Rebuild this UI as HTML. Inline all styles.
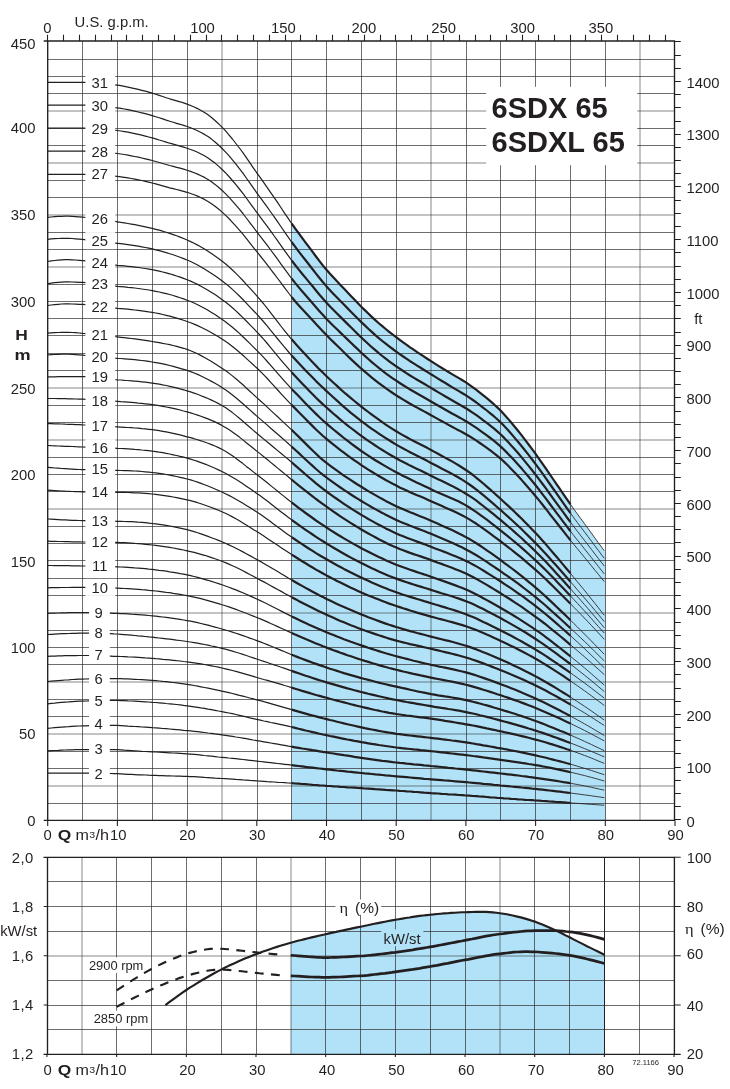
<!DOCTYPE html>
<html lang="en"><head><meta charset="utf-8"><title>6SDX 65 / 6SDXL 65</title>
<style>html,body{margin:0;padding:0;background:#fff}svg{display:block;will-change:transform}</style></head>
<body>
<svg width="730" height="1089" viewBox="0 0 730 1089" font-family="'Liberation Sans', Arial, Helvetica, sans-serif" fill="#231f20">
<rect width="730" height="1089" fill="#fff"/>
<path d="M291.6,820.4 L291.6,223.5 L295.1,228.4 L298.6,233.2 L302.1,237.9 L305.6,242.6 L309.1,247.2 L312.6,251.9 L316.0,256.5 L319.5,261.1 L323.0,265.6 L326.5,269.8 L330.0,273.8 L333.5,277.6 L337.0,281.3 L340.4,284.9 L343.9,288.6 L347.4,292.3 L350.9,296.0 L354.4,299.6 L357.9,303.2 L361.3,306.7 L364.8,310.1 L368.3,313.5 L371.8,316.9 L375.3,320.1 L378.8,323.2 L382.3,326.2 L385.7,329.0 L389.2,331.8 L392.7,334.5 L396.2,337.2 L399.7,339.8 L403.2,342.4 L406.7,344.8 L410.1,347.3 L413.6,349.7 L417.1,352.1 L420.6,354.4 L424.1,356.7 L427.6,359.0 L431.0,361.2 L434.5,363.4 L438.0,365.6 L441.5,367.7 L445.0,369.9 L448.5,372.0 L452.0,374.1 L455.4,376.1 L458.9,378.1 L462.4,380.2 L465.9,382.4 L469.4,384.8 L472.9,387.3 L476.4,389.9 L479.8,392.6 L483.3,395.4 L486.8,398.2 L490.3,401.2 L493.8,404.2 L497.3,407.4 L500.8,410.8 L504.2,414.5 L507.7,418.4 L511.2,422.5 L514.7,426.7 L518.2,431.0 L521.7,435.4 L525.1,439.9 L528.6,444.5 L532.1,449.1 L535.6,453.9 L539.1,458.8 L542.6,463.8 L546.1,468.8 L549.5,473.9 L553.0,479.0 L556.5,484.1 L560.0,489.2 L563.5,494.3 L567.0,499.3 L570.5,504.3 L573.9,509.2 L577.4,514.0 L580.9,518.8 L584.4,523.5 L587.9,528.3 L591.4,533.1 L594.8,537.9 L598.3,542.7 L601.8,547.4 L605.3,552.2 L605.3,820.4 Z" fill="#b1e2f7"/>
<path d="M47.7,59.5H674.5M47.7,76.5H674.5M47.7,93.5H674.5M47.7,128.5H674.5M47.7,145.5H674.5M47.7,180.5H674.5M47.7,197.5H674.5M47.7,232.5H674.5M47.7,249.5H674.5M47.7,284.5H674.5M47.7,301.5H674.5M47.7,318.5H674.5M47.7,335.5H674.5M47.7,353.5H674.5M47.7,370.5H674.5M47.7,405.5H674.5M47.7,422.5H674.5M47.7,457.5H674.5M47.7,474.5H674.5M47.7,491.5H674.5M47.7,526.5H674.5M47.7,543.5H674.5M47.7,560.5H674.5M47.7,578.5H674.5M47.7,595.5H674.5M47.7,630.5H674.5M47.7,647.5H674.5M47.7,664.5H674.5M47.7,699.5H674.5M47.7,716.5H674.5M47.7,751.5H674.5M47.7,768.5H674.5M47.7,803.5H674.5M82.5,41.0V820.4M117.5,41.0V820.4M152.5,41.0V820.4M187.5,41.0V820.4M257.5,41.0V820.4M291.5,41.0V820.4M326.5,41.0V820.4M361.5,41.0V820.4M396.5,41.0V820.4M466.5,41.0V820.4M500.5,41.0V820.4M535.5,41.0V820.4M570.5,41.0V820.4M605.5,41.0V820.4" stroke="#2b2728" stroke-width="0.68" fill="none"/>
<path d="M47.7,111H674.5M47.7,163H674.5M47.7,215H674.5M47.7,267H674.5M47.7,388H674.5M47.7,440H674.5M47.7,509H674.5M47.7,613H674.5M47.7,682H674.5M47.7,734H674.5M47.7,786H674.5M222.0,41.0V820.4M431.0,41.0V820.4M640.0,41.0V820.4" stroke="#2b2728" stroke-width="0.56" fill="none"/>
<rect x="486.2" y="86.8" width="151" height="78.4" fill="#fff"/>
<path d="M570.5,802.9 L573.9,803.2 L577.4,803.4 L580.9,803.6 L584.4,803.9 L587.9,804.1 L591.4,804.4 L594.8,804.6 L598.3,804.8 L601.8,805.1 L604.3,805.2M570.5,793.0 L573.9,793.5 L577.4,793.9 L580.9,794.4 L584.4,794.9 L587.9,795.3 L591.4,795.8 L594.8,796.3 L598.3,796.8 L601.8,797.3 L604.3,797.7M570.5,783.2 L573.9,783.9 L577.4,784.5 L580.9,785.2 L584.4,785.9 L587.9,786.6 L591.4,787.3 L594.8,788.1 L598.3,788.9 L601.8,789.6 L604.3,790.2M570.5,772.2 L573.9,773.0 L577.4,773.8 L580.9,774.7 L584.4,775.5 L587.9,776.5 L591.4,777.4 L594.8,778.3 L598.3,779.3 L601.8,780.3 L604.3,781.0M570.5,764.2 L573.9,765.2 L577.4,766.2 L580.9,767.3 L584.4,768.3 L587.9,769.4 L591.4,770.5 L594.8,771.6 L598.3,772.8 L601.8,773.9 L604.3,774.7M570.5,750.3 L573.9,751.5 L577.4,752.8 L580.9,754.1 L584.4,755.4 L587.9,756.7 L591.4,758.1 L594.8,759.5 L598.3,761.0 L601.8,762.4 L604.3,763.4M570.5,743.0 L573.9,744.3 L577.4,745.7 L580.9,747.1 L584.4,748.5 L587.9,749.9 L591.4,751.4 L594.8,752.8 L598.3,754.3 L601.8,755.8 L604.3,756.9M570.5,735.1 L573.9,736.6 L577.4,738.1 L580.9,739.7 L584.4,741.3 L587.9,742.9 L591.4,744.5 L594.8,746.2 L598.3,747.8 L601.8,749.5 L604.3,750.7M570.5,723.5 L573.9,725.2 L577.4,726.9 L580.9,728.6 L584.4,730.4 L587.9,732.2 L591.4,734.0 L594.8,735.9 L598.3,737.7 L601.8,739.6 L604.3,740.9M570.5,716.1 L573.9,718.0 L577.4,719.9 L580.9,721.8 L584.4,723.8 L587.9,725.8 L591.4,727.8 L594.8,729.9 L598.3,731.9 L601.8,734.0 L604.3,735.5M570.5,704.5 L573.9,706.5 L577.4,708.6 L580.9,710.7 L584.4,712.8 L587.9,715.0 L591.4,717.2 L594.8,719.4 L598.3,721.7 L601.8,723.9 L604.3,725.5M570.5,697.1 L573.9,699.3 L577.4,701.6 L580.9,703.9 L584.4,706.2 L587.9,708.6 L591.4,711.0 L594.8,713.4 L598.3,715.9 L601.8,718.3 L604.3,720.1M570.5,680.9 L573.9,683.3 L577.4,685.7 L580.9,688.2 L584.4,690.7 L587.9,693.2 L591.4,695.8 L594.8,698.4 L598.3,701.0 L601.8,703.6 L604.3,705.5M570.5,672.9 L573.9,675.3 L577.4,677.8 L580.9,680.4 L584.4,682.9 L587.9,685.5 L591.4,688.2 L594.8,690.8 L598.3,693.5 L601.8,696.2 L604.3,698.1M570.5,664.2 L573.9,666.8 L577.4,669.5 L580.9,672.3 L584.4,675.1 L587.9,677.9 L591.4,680.7 L594.8,683.6 L598.3,686.5 L601.8,689.5 L604.3,691.5M570.5,656.3 L573.9,659.2 L577.4,662.0 L580.9,664.9 L584.4,667.8 L587.9,670.8 L591.4,673.8 L594.8,676.8 L598.3,679.9 L601.8,682.9 L604.3,685.1M570.5,644.8 L573.9,647.7 L577.4,650.7 L580.9,653.7 L584.4,656.7 L587.9,659.8 L591.4,662.9 L594.8,666.1 L598.3,669.2 L601.8,672.4 L604.3,674.7M570.5,635.7 L573.9,638.9 L577.4,642.0 L580.9,645.3 L584.4,648.5 L587.9,651.9 L591.4,655.2 L594.8,658.6 L598.3,662.0 L601.8,665.4 L604.3,667.8M570.5,628.2 L573.9,631.4 L577.4,634.7 L580.9,638.0 L584.4,641.3 L587.9,644.7 L591.4,648.1 L594.8,651.5 L598.3,655.0 L601.8,658.5 L604.3,660.9M570.5,620.2 L573.9,623.6 L577.4,627.0 L580.9,630.5 L584.4,634.0 L587.9,637.5 L591.4,641.0 L594.8,644.6 L598.3,648.2 L601.8,651.8 L604.3,654.3M570.5,603.7 L573.9,607.3 L577.4,610.8 L580.9,614.4 L584.4,618.1 L587.9,621.7 L591.4,625.4 L594.8,629.1 L598.3,632.9 L601.8,636.7 L604.3,639.3M570.5,595.9 L573.9,599.6 L577.4,603.3 L580.9,607.1 L584.4,610.9 L587.9,614.7 L591.4,618.6 L594.8,622.5 L598.3,626.4 L601.8,630.3 L604.3,633.1M570.5,588.8 L573.9,592.7 L577.4,596.6 L580.9,600.5 L584.4,604.5 L587.9,608.5 L591.4,612.6 L594.8,616.6 L598.3,620.7 L601.8,624.8 L604.3,627.8M570.5,581.8 L573.9,585.7 L577.4,589.8 L580.9,593.8 L584.4,597.9 L587.9,602.0 L591.4,606.1 L594.8,610.2 L598.3,614.4 L601.8,618.6 L604.3,621.6M570.5,573.4 L573.9,577.6 L577.4,581.8 L580.9,586.0 L584.4,590.3 L587.9,594.6 L591.4,599.0 L594.8,603.3 L598.3,607.7 L601.8,612.1 L604.3,615.3M570.5,540.2 L573.9,544.5 L577.4,548.8 L580.9,553.0 L584.4,557.2 L587.9,561.5 L591.4,565.8 L594.8,570.1 L598.3,574.3 L601.8,578.6 L604.3,581.6M570.5,531.2 L573.9,535.7 L577.4,540.1 L580.9,544.4 L584.4,548.8 L587.9,553.2 L591.4,557.6 L594.8,562.0 L598.3,566.4 L601.8,570.8 L604.3,573.9M570.5,522.2 L573.9,526.8 L577.4,531.3 L580.9,535.8 L584.4,540.3 L587.9,544.8 L591.4,549.4 L594.8,553.9 L598.3,558.4 L601.8,562.9 L604.3,566.1M570.5,513.1 L573.9,517.9 L577.4,522.6 L580.9,527.2 L584.4,531.8 L587.9,536.5 L591.4,541.1 L594.8,545.8 L598.3,550.4 L601.8,555.1 L604.3,558.3M570.5,504.3 L573.9,509.2 L577.4,514.0 L580.9,518.8 L584.4,523.5 L587.9,528.3 L591.4,533.1 L594.8,537.9 L598.3,542.7 L601.8,547.4 L604.3,550.8" stroke="#231f20" stroke-width="0.85" fill="none" stroke-linejoin="round"/>
<path d="M47.7,773.2 L51.2,773.2 L54.7,773.2 L58.2,773.2 L61.6,773.2 L65.1,773.2 L68.6,773.2 L72.1,773.2 L75.6,773.2 L79.1,773.2 L82.6,773.2 L86.0,773.2 L89.5,773.2 L93.0,773.2 L96.5,773.3 L100.0,773.3 L103.5,773.4 L106.9,773.5 L110.4,773.5 L113.9,773.6 L117.4,773.7 L120.9,773.9 L124.4,774.1 L127.9,774.3 L131.3,774.4 L134.8,774.6 L138.3,774.8 L141.8,774.9 L145.3,775.0 L148.8,775.2 L152.2,775.3 L155.7,775.4 L159.2,775.6 L162.7,775.7 L166.2,775.8 L169.7,775.9 L173.2,776.0 L176.6,776.1 L180.1,776.2 L183.6,776.3 L187.1,776.4 L190.6,776.6 L194.1,776.7 L197.6,776.9 L201.0,777.1 L204.5,777.4 L208.0,777.6 L211.5,777.8 L215.0,778.1 L218.5,778.3 L221.9,778.5 L225.4,778.7 L228.9,778.9 L232.4,779.1 L235.9,779.4 L239.4,779.6 L242.9,779.9 L246.3,780.1 L249.8,780.4 L253.3,780.6 L256.8,780.9 L260.3,781.1 L263.8,781.3 L267.3,781.6 L270.7,781.8 L274.2,782.0 L277.7,782.3 L281.2,782.5 L284.7,782.7 L288.2,783.0 L291.6,783.2M47.7,750.9 L51.2,750.7 L54.7,750.5 L58.2,750.4 L61.6,750.2 L65.1,750.0 L68.6,749.9 L72.1,749.8 L75.6,749.7 L79.1,749.6 L82.6,749.6 L86.0,749.6 L89.5,749.6 L93.0,749.6 L96.5,749.6 L100.0,749.6 L103.5,749.6 L106.9,749.6 L110.4,749.7 L113.9,749.7 L117.4,749.7 L120.9,749.9 L124.4,750.2 L127.9,750.4 L131.3,750.6 L134.8,750.8 L138.3,751.0 L141.8,751.3 L145.3,751.5 L148.8,751.6 L152.2,751.8 L155.7,752.0 L159.2,752.2 L162.7,752.4 L166.2,752.6 L169.7,752.8 L173.2,753.0 L176.6,753.2 L180.1,753.4 L183.6,753.6 L187.1,753.8 L190.6,754.1 L194.1,754.4 L197.6,754.7 L201.0,755.1 L204.5,755.5 L208.0,755.8 L211.5,756.2 L215.0,756.6 L218.5,757.0 L221.9,757.3 L225.4,757.6 L228.9,758.0 L232.4,758.3 L235.9,758.7 L239.4,759.1 L242.9,759.5 L246.3,759.9 L249.8,760.3 L253.3,760.7 L256.8,761.1 L260.3,761.5 L263.8,761.9 L267.3,762.3 L270.7,762.7 L274.2,763.1 L277.7,763.5 L281.2,763.9 L284.7,764.3 L288.2,764.7 L291.6,765.2M47.7,728.3 L51.2,728.0 L54.7,727.7 L58.2,727.4 L61.6,727.1 L65.1,726.8 L68.6,726.6 L72.1,726.3 L75.6,726.1 L79.1,726.0 L82.6,725.9 L86.0,725.8 L89.5,725.7 L93.0,725.7 L96.5,725.6 L100.0,725.5 L103.5,725.5 L106.9,725.5 L110.4,725.4 L113.9,725.4 L117.4,725.4 L120.9,725.6 L124.4,725.8 L127.9,726.1 L131.3,726.3 L134.8,726.5 L138.3,726.7 L141.8,727.0 L145.3,727.2 L148.8,727.4 L152.2,727.7 L155.7,727.9 L159.2,728.2 L162.7,728.5 L166.2,728.7 L169.7,729.0 L173.2,729.3 L176.6,729.6 L180.1,729.9 L183.6,730.3 L187.1,730.6 L190.6,730.9 L194.1,731.3 L197.6,731.7 L201.0,732.1 L204.5,732.5 L208.0,733.0 L211.5,733.4 L215.0,733.9 L218.5,734.3 L221.9,734.8 L225.4,735.3 L228.9,735.8 L232.4,736.4 L235.9,737.0 L239.4,737.5 L242.9,738.1 L246.3,738.7 L249.8,739.3 L253.3,740.0 L256.8,740.6 L260.3,741.2 L263.8,741.8 L267.3,742.4 L270.7,743.0 L274.2,743.6 L277.7,744.2 L281.2,744.8 L284.7,745.4 L288.2,746.1 L291.6,746.7M47.7,703.8 L51.2,703.4 L54.7,703.1 L58.2,702.7 L61.6,702.4 L65.1,702.1 L68.6,701.9 L72.1,701.6 L75.6,701.4 L79.1,701.2 L82.6,701.1 L86.0,701.0 L89.5,700.9 L93.0,700.8 L96.5,700.7 L100.0,700.7 L103.5,700.6 L106.9,700.6 L110.4,700.5 L113.9,700.5 L117.4,700.5 L120.9,700.6 L124.4,700.7 L127.9,700.9 L131.3,701.0 L134.8,701.2 L138.3,701.4 L141.8,701.6 L145.3,701.8 L148.8,702.0 L152.2,702.3 L155.7,702.5 L159.2,702.8 L162.7,703.1 L166.2,703.5 L169.7,703.8 L173.2,704.2 L176.6,704.5 L180.1,704.9 L183.6,705.4 L187.1,705.8 L190.6,706.3 L194.1,706.8 L197.6,707.3 L201.0,707.9 L204.5,708.4 L208.0,709.1 L211.5,709.7 L215.0,710.3 L218.5,711.0 L221.9,711.6 L225.4,712.3 L228.9,713.0 L232.4,713.7 L235.9,714.5 L239.4,715.3 L242.9,716.1 L246.3,716.9 L249.8,717.8 L253.3,718.6 L256.8,719.4 L260.3,720.2 L263.8,721.0 L267.3,721.7 L270.7,722.5 L274.2,723.2 L277.7,723.9 L281.2,724.6 L284.7,725.4 L288.2,726.2 L291.6,727.0M47.7,681.5 L51.2,681.2 L54.7,680.9 L58.2,680.6 L61.6,680.3 L65.1,680.0 L68.6,679.8 L72.1,679.5 L75.6,679.3 L79.1,679.2 L82.6,679.1 L86.0,679.0 L89.5,678.9 L93.0,678.9 L96.5,678.8 L100.0,678.7 L103.5,678.7 L106.9,678.7 L110.4,678.6 L113.9,678.6 L117.4,678.6 L120.9,678.7 L124.4,678.8 L127.9,678.9 L131.3,679.1 L134.8,679.3 L138.3,679.5 L141.8,679.7 L145.3,679.9 L148.8,680.1 L152.2,680.4 L155.7,680.7 L159.2,681.0 L162.7,681.4 L166.2,681.7 L169.7,682.1 L173.2,682.5 L176.6,682.9 L180.1,683.4 L183.6,683.9 L187.1,684.4 L190.6,684.9 L194.1,685.5 L197.6,686.1 L201.0,686.8 L204.5,687.5 L208.0,688.2 L211.5,688.9 L215.0,689.6 L218.5,690.4 L221.9,691.2 L225.4,691.9 L228.9,692.7 L232.4,693.5 L235.9,694.4 L239.4,695.3 L242.9,696.1 L246.3,697.0 L249.8,698.0 L253.3,698.9 L256.8,699.8 L260.3,700.7 L263.8,701.7 L267.3,702.6 L270.7,703.6 L274.2,704.6 L277.7,705.6 L281.2,706.6 L284.7,707.6 L288.2,708.6 L291.6,709.6M47.7,656.4 L51.2,656.2 L54.7,656.1 L58.2,655.9 L61.6,655.8 L65.1,655.7 L68.6,655.7 L72.1,655.6 L75.6,655.6 L79.1,655.5 L82.6,655.5 L86.0,655.5 L89.5,655.5 L93.0,655.6 L96.5,655.7 L100.0,655.8 L103.5,655.9 L106.9,656.0 L110.4,656.1 L113.9,656.3 L117.4,656.4 L120.9,656.5 L124.4,656.7 L127.9,656.9 L131.3,657.0 L134.8,657.2 L138.3,657.4 L141.8,657.6 L145.3,657.9 L148.8,658.1 L152.2,658.4 L155.7,658.7 L159.2,658.9 L162.7,659.3 L166.2,659.6 L169.7,659.9 L173.2,660.3 L176.6,660.7 L180.1,661.0 L183.6,661.5 L187.1,661.9 L190.6,662.3 L194.1,662.8 L197.6,663.3 L201.0,663.9 L204.5,664.5 L208.0,665.1 L211.5,665.8 L215.0,666.5 L218.5,667.2 L221.9,668.0 L225.4,668.8 L228.9,669.6 L232.4,670.5 L235.9,671.4 L239.4,672.4 L242.9,673.4 L246.3,674.4 L249.8,675.4 L253.3,676.4 L256.8,677.5 L260.3,678.5 L263.8,679.5 L267.3,680.4 L270.7,681.4 L274.2,682.4 L277.7,683.4 L281.2,684.4 L284.7,685.5 L288.2,686.5 L291.6,687.6M47.7,634.5 L51.2,634.3 L54.7,634.1 L58.2,633.9 L61.6,633.7 L65.1,633.6 L68.6,633.5 L72.1,633.4 L75.6,633.3 L79.1,633.2 L82.6,633.2 L86.0,633.2 L89.5,633.2 L93.0,633.3 L96.5,633.3 L100.0,633.4 L103.5,633.5 L106.9,633.6 L110.4,633.7 L113.9,633.9 L117.4,634.0 L120.9,634.3 L124.4,634.6 L127.9,634.9 L131.3,635.2 L134.8,635.5 L138.3,635.9 L141.8,636.2 L145.3,636.5 L148.8,636.9 L152.2,637.2 L155.7,637.6 L159.2,638.0 L162.7,638.4 L166.2,638.8 L169.7,639.2 L173.2,639.6 L176.6,640.1 L180.1,640.5 L183.6,641.0 L187.1,641.5 L190.6,642.0 L194.1,642.6 L197.6,643.2 L201.0,643.8 L204.5,644.5 L208.0,645.2 L211.5,646.0 L215.0,646.7 L218.5,647.5 L221.9,648.3 L225.4,649.2 L228.9,650.1 L232.4,651.1 L235.9,652.2 L239.4,653.3 L242.9,654.4 L246.3,655.5 L249.8,656.7 L253.3,657.9 L256.8,659.0 L260.3,660.2 L263.8,661.4 L267.3,662.5 L270.7,663.7 L274.2,664.9 L277.7,666.0 L281.2,667.2 L284.7,668.4 L288.2,669.6 L291.6,670.9M47.7,613.4 L51.2,613.2 L54.7,613.1 L58.2,613.0 L61.6,612.9 L65.1,612.8 L68.6,612.7 L72.1,612.7 L75.6,612.6 L79.1,612.6 L82.6,612.6 L86.0,612.6 L89.5,612.6 L93.0,612.7 L96.5,612.7 L100.0,612.8 L103.5,612.9 L106.9,613.0 L110.4,613.1 L113.9,613.3 L117.4,613.4 L120.9,613.6 L124.4,613.7 L127.9,613.9 L131.3,614.2 L134.8,614.4 L138.3,614.6 L141.8,614.9 L145.3,615.2 L148.8,615.5 L152.2,615.8 L155.7,616.2 L159.2,616.6 L162.7,617.0 L166.2,617.4 L169.7,617.9 L173.2,618.4 L176.6,618.9 L180.1,619.4 L183.6,620.0 L187.1,620.6 L190.6,621.2 L194.1,621.9 L197.6,622.7 L201.0,623.5 L204.5,624.3 L208.0,625.2 L211.5,626.2 L215.0,627.1 L218.5,628.0 L221.9,629.0 L225.4,630.0 L228.9,631.0 L232.4,632.1 L235.9,633.2 L239.4,634.4 L242.9,635.6 L246.3,636.8 L249.8,638.1 L253.3,639.3 L256.8,640.6 L260.3,641.9 L263.8,643.2 L267.3,644.6 L270.7,646.0 L274.2,647.5 L277.7,648.9 L281.2,650.4 L284.7,651.8 L288.2,653.3 L291.6,654.7M47.7,587.8 L51.2,587.7 L54.7,587.6 L58.2,587.6 L61.6,587.5 L65.1,587.5 L68.6,587.5 L72.1,587.4 L75.6,587.4 L79.1,587.4 L82.6,587.4 L86.0,587.4 L89.5,587.4 L93.0,587.5 L96.5,587.5 L100.0,587.6 L103.5,587.7 L106.9,587.8 L110.4,587.9 L113.9,588.0 L117.4,588.1 L120.9,588.3 L124.4,588.5 L127.9,588.7 L131.3,588.9 L134.8,589.1 L138.3,589.4 L141.8,589.7 L145.3,589.9 L148.8,590.3 L152.2,590.6 L155.7,591.0 L159.2,591.4 L162.7,591.8 L166.2,592.3 L169.7,592.7 L173.2,593.3 L176.6,593.8 L180.1,594.4 L183.6,595.0 L187.1,595.6 L190.6,596.3 L194.1,597.1 L197.6,597.9 L201.0,598.7 L204.5,599.7 L208.0,600.6 L211.5,601.6 L215.0,602.6 L218.5,603.6 L221.9,604.7 L225.4,605.8 L228.9,606.9 L232.4,608.1 L235.9,609.4 L239.4,610.7 L242.9,612.0 L246.3,613.3 L249.8,614.7 L253.3,616.1 L256.8,617.5 L260.3,618.9 L263.8,620.4 L267.3,621.9 L270.7,623.5 L274.2,625.0 L277.7,626.6 L281.2,628.2 L284.7,629.8 L288.2,631.4 L291.6,632.9M47.7,565.5 L51.2,565.5 L54.7,565.6 L58.2,565.6 L61.6,565.6 L65.1,565.7 L68.6,565.7 L72.1,565.8 L75.6,565.8 L79.1,565.9 L82.6,566.0 L86.0,566.0 L89.5,566.1 L93.0,566.1 L96.5,566.2 L100.0,566.3 L103.5,566.4 L106.9,566.5 L110.4,566.6 L113.9,566.7 L117.4,566.8 L120.9,567.0 L124.4,567.2 L127.9,567.4 L131.3,567.6 L134.8,567.9 L138.3,568.1 L141.8,568.4 L145.3,568.7 L148.8,569.1 L152.2,569.4 L155.7,569.8 L159.2,570.3 L162.7,570.7 L166.2,571.2 L169.7,571.8 L173.2,572.3 L176.6,572.9 L180.1,573.6 L183.6,574.2 L187.1,574.9 L190.6,575.7 L194.1,576.5 L197.6,577.4 L201.0,578.3 L204.5,579.3 L208.0,580.3 L211.5,581.4 L215.0,582.5 L218.5,583.6 L221.9,584.8 L225.4,586.0 L228.9,587.2 L232.4,588.6 L235.9,589.9 L239.4,591.4 L242.9,592.8 L246.3,594.3 L249.8,595.9 L253.3,597.4 L256.8,599.0 L260.3,600.6 L263.8,602.3 L267.3,604.0 L270.7,605.7 L274.2,607.5 L277.7,609.3 L281.2,611.1 L284.7,612.9 L288.2,614.6 L291.6,616.4M47.7,541.2 L51.2,541.3 L54.7,541.4 L58.2,541.5 L61.6,541.5 L65.1,541.6 L68.6,541.7 L72.1,541.8 L75.6,541.8 L79.1,541.9 L82.6,542.0 L86.0,542.0 L89.5,542.1 L93.0,542.1 L96.5,542.1 L100.0,542.2 L103.5,542.2 L106.9,542.2 L110.4,542.3 L113.9,542.3 L117.4,542.4 L120.9,542.6 L124.4,542.7 L127.9,542.9 L131.3,543.1 L134.8,543.4 L138.3,543.6 L141.8,543.9 L145.3,544.3 L148.8,544.6 L152.2,545.0 L155.7,545.4 L159.2,545.9 L162.7,546.4 L166.2,546.9 L169.7,547.4 L173.2,548.0 L176.6,548.7 L180.1,549.3 L183.6,550.0 L187.1,550.8 L190.6,551.6 L194.1,552.4 L197.6,553.3 L201.0,554.3 L204.5,555.3 L208.0,556.4 L211.5,557.6 L215.0,558.8 L218.5,560.0 L221.9,561.3 L225.4,562.6 L228.9,564.1 L232.4,565.7 L235.9,567.3 L239.4,569.0 L242.9,570.8 L246.3,572.6 L249.8,574.5 L253.3,576.3 L256.8,578.2 L260.3,580.1 L263.8,581.9 L267.3,583.8 L270.7,585.7 L274.2,587.6 L277.7,589.5 L281.2,591.4 L284.7,593.4 L288.2,595.3 L291.6,597.2M47.7,519.0 L51.2,519.2 L54.7,519.4 L58.2,519.6 L61.6,519.8 L65.1,519.9 L68.6,520.1 L72.1,520.3 L75.6,520.4 L79.1,520.5 L82.6,520.6 L86.0,520.7 L89.5,520.8 L93.0,520.9 L96.5,520.9 L100.0,521.0 L103.5,521.0 L106.9,521.1 L110.4,521.2 L113.9,521.2 L117.4,521.3 L120.9,521.4 L124.4,521.5 L127.9,521.6 L131.3,521.7 L134.8,521.9 L138.3,522.2 L141.8,522.4 L145.3,522.7 L148.8,523.1 L152.2,523.5 L155.7,523.9 L159.2,524.4 L162.7,524.9 L166.2,525.4 L169.7,526.0 L173.2,526.7 L176.6,527.4 L180.1,528.1 L183.6,528.9 L187.1,529.7 L190.6,530.6 L194.1,531.6 L197.6,532.7 L201.0,533.9 L204.5,535.1 L208.0,536.4 L211.5,537.7 L215.0,539.0 L218.5,540.4 L221.9,541.8 L225.4,543.3 L228.9,544.9 L232.4,546.5 L235.9,548.2 L239.4,550.0 L242.9,551.9 L246.3,553.7 L249.8,555.6 L253.3,557.6 L256.8,559.5 L260.3,561.4 L263.8,563.4 L267.3,565.4 L270.7,567.5 L274.2,569.6 L277.7,571.6 L281.2,573.7 L284.7,575.8 L288.2,577.9 L291.6,579.9M47.7,490.2 L51.2,490.4 L54.7,490.6 L58.2,490.8 L61.6,491.0 L65.1,491.2 L68.6,491.3 L72.1,491.5 L75.6,491.6 L79.1,491.7 L82.6,491.8 L86.0,491.9 L89.5,492.0 L93.0,492.1 L96.5,492.1 L100.0,492.2 L103.5,492.2 L106.9,492.3 L110.4,492.3 L113.9,492.3 L117.4,492.4 L120.9,492.4 L124.4,492.4 L127.9,492.5 L131.3,492.6 L134.8,492.8 L138.3,492.9 L141.8,493.1 L145.3,493.4 L148.8,493.7 L152.2,494.0 L155.7,494.4 L159.2,494.8 L162.7,495.3 L166.2,495.8 L169.7,496.4 L173.2,497.0 L176.6,497.6 L180.1,498.3 L183.6,499.1 L187.1,499.9 L190.6,500.7 L194.1,501.7 L197.6,502.7 L201.0,503.8 L204.5,505.0 L208.0,506.2 L211.5,507.5 L215.0,508.9 L218.5,510.3 L221.9,511.8 L225.4,513.3 L228.9,515.0 L232.4,516.9 L235.9,518.8 L239.4,520.8 L242.9,522.9 L246.3,525.1 L249.8,527.2 L253.3,529.4 L256.8,531.6 L260.3,533.8 L263.8,536.1 L267.3,538.4 L270.7,540.7 L274.2,543.0 L277.7,545.3 L281.2,547.7 L284.7,550.0 L288.2,552.3 L291.6,554.6M47.7,467.4 L51.2,467.7 L54.7,468.0 L58.2,468.2 L61.6,468.5 L65.1,468.7 L68.6,468.9 L72.1,469.1 L75.6,469.3 L79.1,469.5 L82.6,469.6 L86.0,469.7 L89.5,469.8 L93.0,469.9 L96.5,470.0 L100.0,470.0 L103.5,470.1 L106.9,470.2 L110.4,470.2 L113.9,470.3 L117.4,470.4 L120.9,470.5 L124.4,470.6 L127.9,470.7 L131.3,470.8 L134.8,471.0 L138.3,471.2 L141.8,471.5 L145.3,471.8 L148.8,472.1 L152.2,472.5 L155.7,472.9 L159.2,473.4 L162.7,473.9 L166.2,474.5 L169.7,475.1 L173.2,475.8 L176.6,476.5 L180.1,477.3 L183.6,478.1 L187.1,479.0 L190.6,479.9 L194.1,481.0 L197.6,482.1 L201.0,483.4 L204.5,484.7 L208.0,486.0 L211.5,487.5 L215.0,489.0 L218.5,490.5 L221.9,492.0 L225.4,493.7 L228.9,495.4 L232.4,497.3 L235.9,499.2 L239.4,501.2 L242.9,503.3 L246.3,505.4 L249.8,507.6 L253.3,509.8 L256.8,512.0 L260.3,514.3 L263.8,516.7 L267.3,519.2 L270.7,521.8 L274.2,524.4 L277.7,527.0 L281.2,529.6 L284.7,532.2 L288.2,534.7 L291.6,537.1M47.7,445.5 L51.2,445.7 L54.7,445.8 L58.2,446.0 L61.6,446.1 L65.1,446.3 L68.6,446.4 L72.1,446.5 L75.6,446.7 L79.1,446.8 L82.6,447.0 L86.0,447.1 L89.5,447.3 L93.0,447.4 L96.5,447.5 L100.0,447.7 L103.5,447.8 L106.9,448.0 L110.4,448.1 L113.9,448.2 L117.4,448.4 L120.9,448.5 L124.4,448.7 L127.9,448.9 L131.3,449.1 L134.8,449.4 L138.3,449.6 L141.8,450.0 L145.3,450.3 L148.8,450.7 L152.2,451.2 L155.7,451.6 L159.2,452.2 L162.7,452.7 L166.2,453.4 L169.7,454.0 L173.2,454.8 L176.6,455.5 L180.1,456.4 L183.6,457.2 L187.1,458.1 L190.6,459.1 L194.1,460.2 L197.6,461.4 L201.0,462.6 L204.5,463.9 L208.0,465.3 L211.5,466.8 L215.0,468.3 L218.5,469.9 L221.9,471.5 L225.4,473.3 L228.9,475.2 L232.4,477.2 L235.9,479.3 L239.4,481.5 L242.9,483.8 L246.3,486.2 L249.8,488.6 L253.3,491.0 L256.8,493.4 L260.3,495.8 L263.8,498.4 L267.3,501.0 L270.7,503.7 L274.2,506.4 L277.7,509.2 L281.2,511.9 L284.7,514.6 L288.2,517.3 L291.6,519.8M47.7,423.6 L51.2,423.7 L54.7,423.8 L58.2,423.9 L61.6,424.0 L65.1,424.2 L68.6,424.3 L72.1,424.4 L75.6,424.6 L79.1,424.7 L82.6,424.9 L86.0,425.0 L89.5,425.2 L93.0,425.4 L96.5,425.6 L100.0,425.8 L103.5,426.0 L106.9,426.3 L110.4,426.5 L113.9,426.7 L117.4,426.9 L120.9,427.1 L124.4,427.3 L127.9,427.5 L131.3,427.7 L134.8,428.0 L138.3,428.2 L141.8,428.6 L145.3,428.9 L148.8,429.3 L152.2,429.7 L155.7,430.2 L159.2,430.7 L162.7,431.3 L166.2,431.9 L169.7,432.6 L173.2,433.3 L176.6,434.1 L180.1,434.9 L183.6,435.8 L187.1,436.8 L190.6,437.7 L194.1,438.7 L197.6,439.8 L201.0,440.8 L204.5,442.0 L208.0,443.2 L211.5,444.6 L215.0,446.0 L218.5,447.6 L221.9,449.3 L225.4,451.2 L228.9,453.4 L232.4,455.8 L235.9,458.3 L239.4,460.9 L242.9,463.6 L246.3,466.4 L249.8,469.1 L253.3,471.9 L256.8,474.6 L260.3,477.3 L263.8,480.0 L267.3,482.8 L270.7,485.6 L274.2,488.4 L277.7,491.3 L281.2,494.1 L284.7,496.9 L288.2,499.7 L291.6,502.4M47.7,398.5 L51.2,398.5 L54.7,398.5 L58.2,398.6 L61.6,398.6 L65.1,398.7 L68.6,398.8 L72.1,398.9 L75.6,399.0 L79.1,399.1 L82.6,399.2 L86.0,399.3 L89.5,399.5 L93.0,399.6 L96.5,399.8 L100.0,400.1 L103.5,400.3 L106.9,400.5 L110.4,400.8 L113.9,401.0 L117.4,401.3 L120.9,401.6 L124.4,401.8 L127.9,402.1 L131.3,402.4 L134.8,402.7 L138.3,403.1 L141.8,403.4 L145.3,403.8 L148.8,404.2 L152.2,404.7 L155.7,405.2 L159.2,405.7 L162.7,406.3 L166.2,407.0 L169.7,407.7 L173.2,408.4 L176.6,409.2 L180.1,410.0 L183.6,411.0 L187.1,411.9 L190.6,412.9 L194.1,414.0 L197.6,415.1 L201.0,416.3 L204.5,417.6 L208.0,418.9 L211.5,420.4 L215.0,421.9 L218.5,423.6 L221.9,425.4 L225.4,427.4 L228.9,429.6 L232.4,431.9 L235.9,434.5 L239.4,437.1 L242.9,439.9 L246.3,442.7 L249.8,445.5 L253.3,448.3 L256.8,451.1 L260.3,453.9 L263.8,456.7 L267.3,459.5 L270.7,462.4 L274.2,465.3 L277.7,468.1 L281.2,471.0 L284.7,473.9 L288.2,476.8 L291.6,479.7M47.7,376.9 L51.2,376.8 L54.7,376.8 L58.2,376.7 L61.6,376.7 L65.1,376.6 L68.6,376.6 L72.1,376.6 L75.6,376.6 L79.1,376.6 L82.6,376.6 L86.0,376.6 L89.5,376.7 L93.0,376.9 L96.5,377.3 L100.0,377.7 L103.5,378.1 L106.9,378.6 L110.4,379.1 L113.9,379.5 L117.4,379.8 L120.9,380.0 L124.4,380.3 L127.9,380.5 L131.3,380.8 L134.8,381.1 L138.3,381.4 L141.8,381.8 L145.3,382.2 L148.8,382.6 L152.2,383.1 L155.7,383.6 L159.2,384.2 L162.7,384.9 L166.2,385.5 L169.7,386.3 L173.2,387.1 L176.6,387.9 L180.1,388.9 L183.6,389.8 L187.1,390.9 L190.6,391.9 L194.1,393.1 L197.6,394.3 L201.0,395.7 L204.5,397.1 L208.0,398.5 L211.5,400.1 L215.0,401.8 L218.5,403.6 L221.9,405.5 L225.4,407.6 L228.9,410.0 L232.4,412.6 L235.9,415.4 L239.4,418.3 L242.9,421.2 L246.3,424.3 L249.8,427.3 L253.3,430.4 L256.8,433.3 L260.3,436.2 L263.8,439.1 L267.3,442.0 L270.7,444.8 L274.2,447.7 L277.7,450.6 L281.2,453.5 L284.7,456.4 L288.2,459.3 L291.6,462.3M47.7,355.0 L51.2,354.7 L54.7,354.5 L58.2,354.3 L61.6,354.2 L65.1,354.2 L68.6,354.2 L72.1,354.4 L75.6,354.6 L79.1,354.9 L82.6,355.2 L86.0,355.5 L89.5,355.7 L93.0,356.0 L96.5,356.3 L100.0,356.7 L103.5,357.0 L106.9,357.4 L110.4,357.7 L113.9,358.0 L117.4,358.3 L120.9,358.5 L124.4,358.8 L127.9,359.1 L131.3,359.4 L134.8,359.7 L138.3,360.1 L141.8,360.5 L145.3,360.9 L148.8,361.4 L152.2,362.0 L155.7,362.6 L159.2,363.2 L162.7,363.9 L166.2,364.7 L169.7,365.5 L173.2,366.4 L176.6,367.3 L180.1,368.3 L183.6,369.3 L187.1,370.4 L190.6,371.6 L194.1,373.0 L197.6,374.4 L201.0,376.0 L204.5,377.7 L208.0,379.5 L211.5,381.4 L215.0,383.3 L218.5,385.3 L221.9,387.5 L225.4,389.7 L228.9,392.2 L232.4,394.9 L235.9,397.7 L239.4,400.7 L242.9,403.7 L246.3,406.8 L249.8,409.9 L253.3,413.0 L256.8,416.1 L260.3,419.1 L263.8,422.1 L267.3,425.1 L270.7,428.2 L274.2,431.2 L277.7,434.2 L281.2,437.3 L284.7,440.4 L288.2,443.5 L291.6,446.6M47.7,333.2 L51.2,332.9 L54.7,332.6 L58.2,332.5 L61.6,332.4 L65.1,332.3 L68.6,332.3 L72.1,332.5 L75.6,332.7 L79.1,333.0 L82.6,333.4 L86.0,333.7 L89.5,334.0 L93.0,334.3 L96.5,334.6 L100.0,335.0 L103.5,335.4 L106.9,335.7 L110.4,336.1 L113.9,336.5 L117.4,336.9 L120.9,337.3 L124.4,337.7 L127.9,338.1 L131.3,338.5 L134.8,338.9 L138.3,339.4 L141.8,339.9 L145.3,340.4 L148.8,340.9 L152.2,341.5 L155.7,342.1 L159.2,342.7 L162.7,343.4 L166.2,344.0 L169.7,344.7 L173.2,345.5 L176.6,346.3 L180.1,347.3 L183.6,348.3 L187.1,349.4 L190.6,350.7 L194.1,352.2 L197.6,353.8 L201.0,355.6 L204.5,357.5 L208.0,359.5 L211.5,361.5 L215.0,363.7 L218.5,365.9 L221.9,368.2 L225.4,370.6 L228.9,373.1 L232.4,375.9 L235.9,378.8 L239.4,381.8 L242.9,384.8 L246.3,388.0 L249.8,391.2 L253.3,394.4 L256.8,397.6 L260.3,400.7 L263.8,403.9 L267.3,407.1 L270.7,410.4 L274.2,413.6 L277.7,416.8 L281.2,420.1 L284.7,423.4 L288.2,426.6 L291.6,429.9M47.7,305.5 L51.2,305.0 L54.7,304.6 L58.2,304.3 L61.6,304.0 L65.1,303.9 L68.6,303.9 L72.1,304.0 L75.6,304.1 L79.1,304.3 L82.6,304.4 L86.0,304.6 L89.5,304.9 L93.0,305.2 L96.5,305.6 L100.0,306.1 L103.5,306.5 L106.9,307.0 L110.4,307.5 L113.9,307.9 L117.4,308.3 L120.9,308.6 L124.4,308.9 L127.9,309.2 L131.3,309.6 L134.8,310.0 L138.3,310.4 L141.8,310.8 L145.3,311.3 L148.8,311.9 L152.2,312.4 L155.7,313.0 L159.2,313.7 L162.7,314.5 L166.2,315.3 L169.7,316.2 L173.2,317.1 L176.6,318.1 L180.1,319.1 L183.6,320.3 L187.1,321.5 L190.6,322.7 L194.1,324.1 L197.6,325.6 L201.0,327.3 L204.5,329.0 L208.0,330.8 L211.5,332.7 L215.0,334.7 L218.5,336.8 L221.9,339.0 L225.4,341.3 L228.9,343.8 L232.4,346.5 L235.9,349.3 L239.4,352.2 L242.9,355.3 L246.3,358.4 L249.8,361.6 L253.3,364.8 L256.8,368.0 L260.3,371.3 L263.8,374.9 L267.3,378.5 L270.7,382.3 L274.2,386.2 L277.7,390.0 L281.2,393.9 L284.7,397.7 L288.2,401.4 L291.6,404.9M47.7,283.8 L51.2,283.2 L54.7,282.7 L58.2,282.3 L61.6,282.1 L65.1,281.9 L68.6,281.9 L72.1,282.0 L75.6,282.1 L79.1,282.3 L82.6,282.4 L86.0,282.6 L89.5,282.9 L93.0,283.2 L96.5,283.6 L100.0,284.1 L103.5,284.5 L106.9,285.0 L110.4,285.5 L113.9,285.9 L117.4,286.3 L120.9,286.6 L124.4,286.9 L127.9,287.3 L131.3,287.6 L134.8,288.0 L138.3,288.5 L141.8,289.0 L145.3,289.5 L148.8,290.0 L152.2,290.6 L155.7,291.3 L159.2,292.0 L162.7,292.8 L166.2,293.6 L169.7,294.5 L173.2,295.5 L176.6,296.6 L180.1,297.7 L183.6,298.9 L187.1,300.2 L190.6,301.5 L194.1,303.0 L197.6,304.7 L201.0,306.5 L204.5,308.3 L208.0,310.3 L211.5,312.4 L215.0,314.6 L218.5,316.9 L221.9,319.2 L225.4,321.7 L228.9,324.4 L232.4,327.2 L235.9,330.3 L239.4,333.4 L242.9,336.7 L246.3,340.0 L249.8,343.4 L253.3,346.9 L256.8,350.4 L260.3,353.9 L263.8,357.6 L267.3,361.5 L270.7,365.4 L274.2,369.4 L277.7,373.4 L281.2,377.4 L284.7,381.3 L288.2,385.2 L291.6,388.9M47.7,261.5 L51.2,260.9 L54.7,260.5 L58.2,260.1 L61.6,259.8 L65.1,259.7 L68.6,259.7 L72.1,259.8 L75.6,260.0 L79.1,260.3 L82.6,260.6 L86.0,260.9 L89.5,261.2 L93.0,261.6 L96.5,262.1 L100.0,262.7 L103.5,263.3 L106.9,263.8 L110.4,264.4 L113.9,264.9 L117.4,265.3 L120.9,265.6 L124.4,265.9 L127.9,266.3 L131.3,266.7 L134.8,267.1 L138.3,267.5 L141.8,268.0 L145.3,268.5 L148.8,269.1 L152.2,269.7 L155.7,270.4 L159.2,271.2 L162.7,272.0 L166.2,272.9 L169.7,273.8 L173.2,274.9 L176.6,276.0 L180.1,277.1 L183.6,278.4 L187.1,279.7 L190.6,281.1 L194.1,282.7 L197.6,284.4 L201.0,286.2 L204.5,288.2 L208.0,290.2 L211.5,292.4 L215.0,294.6 L218.5,297.0 L221.9,299.4 L225.4,302.0 L228.9,304.8 L232.4,307.7 L235.9,310.9 L239.4,314.2 L242.9,317.6 L246.3,321.0 L249.8,324.6 L253.3,328.2 L256.8,331.8 L260.3,335.5 L263.8,339.4 L267.3,343.5 L270.7,347.6 L274.2,351.8 L277.7,356.1 L281.2,360.3 L284.7,364.4 L288.2,368.4 L291.6,372.2M47.7,239.3 L51.2,238.9 L54.7,238.7 L58.2,238.5 L61.6,238.4 L65.1,238.3 L68.6,238.3 L72.1,238.5 L75.6,238.8 L79.1,239.1 L82.6,239.4 L86.0,239.8 L89.5,240.1 L93.0,240.4 L96.5,240.8 L100.0,241.2 L103.5,241.6 L106.9,242.0 L110.4,242.4 L113.9,242.9 L117.4,243.3 L120.9,243.7 L124.4,244.2 L127.9,244.7 L131.3,245.2 L134.8,245.7 L138.3,246.2 L141.8,246.8 L145.3,247.5 L148.8,248.2 L152.2,248.9 L155.7,249.8 L159.2,250.6 L162.7,251.6 L166.2,252.6 L169.7,253.7 L173.2,254.8 L176.6,256.0 L180.1,257.2 L183.6,258.6 L187.1,260.0 L190.6,261.5 L194.1,263.2 L197.6,265.0 L201.0,266.9 L204.5,269.0 L208.0,271.2 L211.5,273.5 L215.0,275.8 L218.5,278.3 L221.9,280.8 L225.4,283.4 L228.9,286.3 L232.4,289.4 L235.9,292.6 L239.4,296.0 L242.9,299.5 L246.3,303.1 L249.8,306.8 L253.3,310.5 L256.8,314.2 L260.3,318.0 L263.8,322.0 L267.3,326.1 L270.7,330.4 L274.2,334.7 L277.7,339.0 L281.2,343.2 L284.7,347.4 L288.2,351.5 L291.6,355.5M47.7,217.4 L51.2,217.0 L54.7,216.7 L58.2,216.4 L61.6,216.3 L65.1,216.2 L68.6,216.2 L72.1,216.4 L75.6,216.6 L79.1,216.9 L82.6,217.2 L86.0,217.5 L89.5,217.8 L93.0,218.2 L96.5,218.6 L100.0,219.1 L103.5,219.6 L106.9,220.1 L110.4,220.7 L113.9,221.2 L117.4,221.8 L120.9,222.4 L124.4,222.9 L127.9,223.5 L131.3,224.1 L134.8,224.7 L138.3,225.4 L141.8,226.1 L145.3,226.8 L148.8,227.6 L152.2,228.4 L155.7,229.3 L159.2,230.2 L162.7,231.2 L166.2,232.3 L169.7,233.4 L173.2,234.6 L176.6,235.8 L180.1,237.1 L183.6,238.5 L187.1,240.0 L190.6,241.6 L194.1,243.3 L197.6,245.1 L201.0,247.1 L204.5,249.1 L208.0,251.3 L211.5,253.6 L215.0,256.0 L218.5,258.5 L221.9,261.1 L225.4,263.8 L228.9,266.8 L232.4,270.0 L235.9,273.4 L239.4,276.9 L242.9,280.5 L246.3,284.3 L249.8,288.1 L253.3,291.9 L256.8,295.8 L260.3,299.8 L263.8,304.0 L267.3,308.4 L270.7,312.8 L274.2,317.4 L277.7,321.9 L281.2,326.5 L284.7,330.9 L288.2,335.2 L291.6,339.3M47.7,174.4 L51.2,174.4 L54.7,174.4 L58.2,174.4 L61.6,174.4 L65.1,174.4 L68.6,174.4 L72.1,174.4 L75.6,174.4 L79.1,174.4 L82.6,174.4 L86.0,174.4 L89.5,174.4 L93.0,174.6 L96.5,174.7 L100.0,174.9 L103.5,175.2 L106.9,175.5 L110.4,175.8 L113.9,176.1 L117.4,176.4 L120.9,176.8 L124.4,177.3 L127.9,177.9 L131.3,178.5 L134.8,179.1 L138.3,179.8 L141.8,180.5 L145.3,181.3 L148.8,182.1 L152.2,183.0 L155.7,183.9 L159.2,184.8 L162.7,185.8 L166.2,186.8 L169.7,187.8 L173.2,188.7 L176.6,189.5 L180.1,190.4 L183.6,191.3 L187.1,192.3 L190.6,193.5 L194.1,194.7 L197.6,196.1 L201.0,197.7 L204.5,199.4 L208.0,201.4 L211.5,203.7 L215.0,206.2 L218.5,209.0 L221.9,211.9 L225.4,215.1 L228.9,218.5 L232.4,222.3 L235.9,226.1 L239.4,230.1 L242.9,234.2 L246.3,238.4 L249.8,242.9 L253.3,247.3 L256.8,251.7 L260.3,256.0 L263.8,260.4 L267.3,264.8 L270.7,269.3 L274.2,273.9 L277.7,278.5 L281.2,283.2 L284.7,287.9 L288.2,292.5 L291.6,297.0M47.7,151.2 L51.2,151.2 L54.7,151.2 L58.2,151.2 L61.6,151.2 L65.1,151.2 L68.6,151.2 L72.1,151.2 L75.6,151.2 L79.1,151.2 L82.6,151.2 L86.0,151.2 L89.5,151.3 L93.0,151.4 L96.5,151.6 L100.0,151.8 L103.5,152.1 L106.9,152.4 L110.4,152.8 L113.9,153.1 L117.4,153.5 L120.9,154.0 L124.4,154.5 L127.9,155.1 L131.3,155.8 L134.8,156.5 L138.3,157.2 L141.8,158.0 L145.3,158.8 L148.8,159.7 L152.2,160.5 L155.7,161.5 L159.2,162.5 L162.7,163.5 L166.2,164.5 L169.7,165.5 L173.2,166.4 L176.6,167.3 L180.1,168.2 L183.6,169.1 L187.1,170.2 L190.6,171.4 L194.1,172.7 L197.6,174.1 L201.0,175.7 L204.5,177.4 L208.0,179.5 L211.5,181.8 L215.0,184.4 L218.5,187.3 L221.9,190.3 L225.4,193.6 L228.9,197.2 L232.4,201.1 L235.9,205.1 L239.4,209.2 L242.9,213.5 L246.3,218.0 L249.8,222.6 L253.3,227.2 L256.8,231.8 L260.3,236.3 L263.8,240.8 L267.3,245.4 L270.7,250.0 L274.2,254.7 L277.7,259.4 L281.2,264.3 L284.7,269.1 L288.2,273.9 L291.6,278.5M47.7,128.1 L51.2,128.1 L54.7,128.1 L58.2,128.1 L61.6,128.1 L65.1,128.1 L68.6,128.1 L72.1,128.1 L75.6,128.1 L79.1,128.1 L82.6,128.1 L86.0,128.1 L89.5,128.2 L93.0,128.3 L96.5,128.5 L100.0,128.7 L103.5,129.0 L106.9,129.4 L110.4,129.7 L113.9,130.1 L117.4,130.5 L120.9,131.0 L124.4,131.6 L127.9,132.2 L131.3,132.9 L134.8,133.6 L138.3,134.4 L141.8,135.2 L145.3,136.1 L148.8,137.0 L152.2,137.9 L155.7,138.9 L159.2,140.0 L162.7,141.0 L166.2,142.1 L169.7,143.2 L173.2,144.2 L176.6,145.1 L180.1,146.1 L183.6,147.1 L187.1,148.2 L190.6,149.5 L194.1,150.8 L197.6,152.3 L201.0,154.0 L204.5,155.8 L208.0,157.9 L211.5,160.4 L215.0,163.1 L218.5,166.1 L221.9,169.3 L225.4,172.7 L228.9,176.5 L232.4,180.5 L235.9,184.7 L239.4,189.0 L242.9,193.4 L246.3,198.0 L249.8,202.8 L253.3,207.7 L256.8,212.4 L260.3,217.1 L263.8,221.8 L267.3,226.4 L270.7,231.2 L274.2,236.0 L277.7,240.8 L281.2,245.8 L284.7,250.8 L288.2,255.7 L291.6,260.4M47.7,105.1 L51.2,105.1 L54.7,105.1 L58.2,105.1 L61.6,105.1 L65.1,105.1 L68.6,105.1 L72.1,105.1 L75.6,105.1 L79.1,105.1 L82.6,105.1 L86.0,105.1 L89.5,105.2 L93.0,105.3 L96.5,105.6 L100.0,105.9 L103.5,106.2 L106.9,106.6 L110.4,107.0 L113.9,107.5 L117.4,107.9 L120.9,108.4 L124.4,109.0 L127.9,109.7 L131.3,110.4 L134.8,111.2 L138.3,112.0 L141.8,112.8 L145.3,113.7 L148.8,114.7 L152.2,115.6 L155.7,116.7 L159.2,117.8 L162.7,118.9 L166.2,120.1 L169.7,121.2 L173.2,122.3 L176.6,123.3 L180.1,124.3 L183.6,125.4 L187.1,126.5 L190.6,127.8 L194.1,129.3 L197.6,130.8 L201.0,132.5 L204.5,134.4 L208.0,136.6 L211.5,139.1 L215.0,142.0 L218.5,145.0 L221.9,148.3 L225.4,151.8 L228.9,155.7 L232.4,159.9 L235.9,164.2 L239.4,168.6 L242.9,173.2 L246.3,178.0 L249.8,182.9 L253.3,187.9 L256.8,192.8 L260.3,197.6 L263.8,202.4 L267.3,207.2 L270.7,212.0 L274.2,216.9 L277.7,221.9 L281.2,227.0 L284.7,232.1 L288.2,237.1 L291.6,242.0M47.7,82.4 L51.2,82.4 L54.7,82.3 L58.2,82.3 L61.6,82.3 L65.1,82.3 L68.6,82.3 L72.1,82.3 L75.6,82.3 L79.1,82.3 L82.6,82.4 L86.0,82.4 L89.5,82.6 L93.0,82.8 L96.5,83.1 L100.0,83.4 L103.5,83.7 L106.9,84.0 L110.4,84.4 L113.9,84.8 L117.4,85.2 L120.9,85.7 L124.4,86.4 L127.9,87.1 L131.3,87.8 L134.8,88.6 L138.3,89.4 L141.8,90.3 L145.3,91.2 L148.8,92.2 L152.2,93.2 L155.7,94.3 L159.2,95.4 L162.7,96.5 L166.2,97.7 L169.7,98.8 L173.2,99.8 L176.6,100.8 L180.1,101.8 L183.6,102.9 L187.1,104.1 L190.6,105.5 L194.1,107.0 L197.6,108.6 L201.0,110.5 L204.5,112.5 L208.0,114.8 L211.5,117.5 L215.0,120.5 L218.5,123.7 L221.9,127.1 L225.4,130.7 L228.9,134.8 L232.4,139.0 L235.9,143.5 L239.4,148.0 L242.9,152.7 L246.3,157.6 L249.8,162.7 L253.3,167.8 L256.8,172.8 L260.3,177.7 L263.8,182.7 L267.3,187.6 L270.7,192.6 L274.2,197.6 L277.7,202.7 L281.2,208.0 L284.7,213.3 L288.2,218.4 L291.6,223.5" stroke="#231f20" stroke-width="1.2" fill="none" stroke-linejoin="round"/>
<path d="M291.6,783.2 L295.1,783.5 L298.6,783.7 L302.1,784.0 L305.6,784.2 L309.1,784.5 L312.6,784.8 L316.0,785.0 L319.5,785.3 L323.0,785.5 L326.5,785.8 L330.0,786.0 L333.5,786.3 L337.0,786.5 L340.4,786.8 L343.9,787.0 L347.4,787.3 L350.9,787.5 L354.4,787.7 L357.9,788.0 L361.3,788.2 L364.8,788.5 L368.3,788.7 L371.8,788.9 L375.3,789.2 L378.8,789.4 L382.3,789.6 L385.7,789.9 L389.2,790.1 L392.7,790.3 L396.2,790.5 L399.7,790.8 L403.2,791.0 L406.7,791.3 L410.1,791.5 L413.6,791.8 L417.1,792.0 L420.6,792.3 L424.1,792.6 L427.6,792.8 L431.0,793.1 L434.5,793.3 L438.0,793.5 L441.5,793.8 L445.0,794.0 L448.5,794.3 L452.0,794.5 L455.4,794.7 L458.9,795.0 L462.4,795.2 L465.9,795.5 L469.4,795.7 L472.9,796.0 L476.4,796.2 L479.8,796.5 L483.3,796.7 L486.8,797.0 L490.3,797.3 L493.8,797.5 L497.3,797.8 L500.8,798.0 L504.2,798.3 L507.7,798.5 L511.2,798.8 L514.7,799.0 L518.2,799.3 L521.7,799.5 L525.1,799.8 L528.6,800.0 L532.1,800.2 L535.6,800.5 L539.1,800.7 L542.6,801.0 L546.1,801.2 L549.5,801.5 L553.0,801.7 L556.5,802.0 L560.0,802.2 L563.5,802.4 L567.0,802.7 L570.5,802.9M291.6,765.2 L295.1,765.6 L298.6,766.0 L302.1,766.4 L305.6,766.9 L309.1,767.3 L312.6,767.7 L316.0,768.1 L319.5,768.5 L323.0,768.9 L326.5,769.3 L330.0,769.7 L333.5,770.1 L337.0,770.5 L340.4,770.8 L343.9,771.2 L347.4,771.6 L350.9,771.9 L354.4,772.3 L357.9,772.7 L361.3,773.0 L364.8,773.4 L368.3,773.7 L371.8,774.0 L375.3,774.4 L378.8,774.7 L382.3,775.0 L385.7,775.4 L389.2,775.7 L392.7,776.0 L396.2,776.3 L399.7,776.6 L403.2,776.9 L406.7,777.2 L410.1,777.5 L413.6,777.8 L417.1,778.1 L420.6,778.4 L424.1,778.8 L427.6,779.0 L431.0,779.3 L434.5,779.6 L438.0,779.9 L441.5,780.2 L445.0,780.5 L448.5,780.7 L452.0,781.0 L455.4,781.3 L458.9,781.6 L462.4,781.9 L465.9,782.2 L469.4,782.5 L472.9,782.8 L476.4,783.1 L479.8,783.4 L483.3,783.8 L486.8,784.1 L490.3,784.4 L493.8,784.8 L497.3,785.1 L500.8,785.5 L504.2,785.8 L507.7,786.1 L511.2,786.5 L514.7,786.8 L518.2,787.1 L521.7,787.5 L525.1,787.8 L528.6,788.2 L532.1,788.6 L535.6,788.9 L539.1,789.3 L542.6,789.7 L546.1,790.1 L549.5,790.5 L553.0,790.9 L556.5,791.3 L560.0,791.7 L563.5,792.2 L567.0,792.6 L570.5,793.0M291.6,746.7 L295.1,747.3 L298.6,747.9 L302.1,748.5 L305.6,749.0 L309.1,749.6 L312.6,750.2 L316.0,750.7 L319.5,751.3 L323.0,751.9 L326.5,752.4 L330.0,753.0 L333.5,753.5 L337.0,754.1 L340.4,754.6 L343.9,755.2 L347.4,755.7 L350.9,756.2 L354.4,756.8 L357.9,757.3 L361.3,757.8 L364.8,758.3 L368.3,758.8 L371.8,759.3 L375.3,759.8 L378.8,760.3 L382.3,760.8 L385.7,761.2 L389.2,761.6 L392.7,762.1 L396.2,762.5 L399.7,762.9 L403.2,763.2 L406.7,763.6 L410.1,763.9 L413.6,764.3 L417.1,764.6 L420.6,764.9 L424.1,765.3 L427.6,765.6 L431.0,766.0 L434.5,766.3 L438.0,766.7 L441.5,767.0 L445.0,767.4 L448.5,767.8 L452.0,768.1 L455.4,768.5 L458.9,768.8 L462.4,769.2 L465.9,769.6 L469.4,769.9 L472.9,770.3 L476.4,770.7 L479.8,771.1 L483.3,771.5 L486.8,771.9 L490.3,772.3 L493.8,772.7 L497.3,773.1 L500.8,773.5 L504.2,773.9 L507.7,774.3 L511.2,774.7 L514.7,775.1 L518.2,775.5 L521.7,776.0 L525.1,776.4 L528.6,776.9 L532.1,777.3 L535.6,777.8 L539.1,778.3 L542.6,778.8 L546.1,779.3 L549.5,779.8 L553.0,780.3 L556.5,780.9 L560.0,781.5 L563.5,782.1 L567.0,782.6 L570.5,783.2M291.6,727.0 L295.1,727.9 L298.6,728.8 L302.1,729.6 L305.6,730.5 L309.1,731.3 L312.6,732.1 L316.0,732.9 L319.5,733.7 L323.0,734.5 L326.5,735.2 L330.0,736.0 L333.5,736.7 L337.0,737.4 L340.4,738.1 L343.9,738.8 L347.4,739.5 L350.9,740.1 L354.4,740.8 L357.9,741.4 L361.3,742.1 L364.8,742.7 L368.3,743.3 L371.8,743.9 L375.3,744.4 L378.8,745.0 L382.3,745.5 L385.7,746.0 L389.2,746.5 L392.7,747.0 L396.2,747.5 L399.7,747.9 L403.2,748.3 L406.7,748.7 L410.1,749.0 L413.6,749.4 L417.1,749.7 L420.6,750.1 L424.1,750.4 L427.6,750.8 L431.0,751.2 L434.5,751.5 L438.0,751.9 L441.5,752.3 L445.0,752.7 L448.5,753.1 L452.0,753.5 L455.4,753.9 L458.9,754.3 L462.4,754.7 L465.9,755.1 L469.4,755.5 L472.9,756.0 L476.4,756.4 L479.8,756.9 L483.3,757.4 L486.8,757.8 L490.3,758.3 L493.8,758.8 L497.3,759.3 L500.8,759.8 L504.2,760.3 L507.7,760.8 L511.2,761.3 L514.7,761.8 L518.2,762.3 L521.7,762.9 L525.1,763.4 L528.6,764.0 L532.1,764.5 L535.6,765.1 L539.1,765.7 L542.6,766.4 L546.1,767.0 L549.5,767.7 L553.0,768.4 L556.5,769.1 L560.0,769.9 L563.5,770.6 L567.0,771.4 L570.5,772.2M291.6,709.6 L295.1,710.6 L298.6,711.6 L302.1,712.6 L305.6,713.6 L309.1,714.6 L312.6,715.5 L316.0,716.4 L319.5,717.4 L323.0,718.3 L326.5,719.1 L330.0,720.0 L333.5,720.8 L337.0,721.7 L340.4,722.5 L343.9,723.4 L347.4,724.2 L350.9,725.0 L354.4,725.8 L357.9,726.6 L361.3,727.3 L364.8,728.1 L368.3,728.8 L371.8,729.5 L375.3,730.2 L378.8,730.9 L382.3,731.5 L385.7,732.1 L389.2,732.7 L392.7,733.2 L396.2,733.8 L399.7,734.2 L403.2,734.7 L406.7,735.1 L410.1,735.5 L413.6,735.9 L417.1,736.3 L420.6,736.7 L424.1,737.1 L427.6,737.5 L431.0,737.9 L434.5,738.3 L438.0,738.7 L441.5,739.2 L445.0,739.6 L448.5,740.0 L452.0,740.5 L455.4,740.9 L458.9,741.4 L462.4,741.9 L465.9,742.4 L469.4,742.9 L472.9,743.5 L476.4,744.1 L479.8,744.6 L483.3,745.3 L486.8,745.9 L490.3,746.5 L493.8,747.1 L497.3,747.8 L500.8,748.4 L504.2,749.0 L507.7,749.7 L511.2,750.4 L514.7,751.0 L518.2,751.7 L521.7,752.4 L525.1,753.1 L528.6,753.9 L532.1,754.6 L535.6,755.4 L539.1,756.2 L542.6,757.0 L546.1,757.8 L549.5,758.7 L553.0,759.6 L556.5,760.5 L560.0,761.4 L563.5,762.3 L567.0,763.3 L570.5,764.2M291.6,687.6 L295.1,688.7 L298.6,689.8 L302.1,690.9 L305.6,691.9 L309.1,692.9 L312.6,694.0 L316.0,695.0 L319.5,695.9 L323.0,696.9 L326.5,697.8 L330.0,698.8 L333.5,699.7 L337.0,700.6 L340.4,701.5 L343.9,702.4 L347.4,703.3 L350.9,704.2 L354.4,705.1 L357.9,706.0 L361.3,706.8 L364.8,707.6 L368.3,708.4 L371.8,709.2 L375.3,710.0 L378.8,710.7 L382.3,711.5 L385.7,712.1 L389.2,712.8 L392.7,713.4 L396.2,714.0 L399.7,714.5 L403.2,715.0 L406.7,715.5 L410.1,715.9 L413.6,716.4 L417.1,716.8 L420.6,717.3 L424.1,717.7 L427.6,718.2 L431.0,718.7 L434.5,719.2 L438.0,719.7 L441.5,720.2 L445.0,720.8 L448.5,721.3 L452.0,721.9 L455.4,722.5 L458.9,723.1 L462.4,723.7 L465.9,724.3 L469.4,724.9 L472.9,725.5 L476.4,726.2 L479.8,726.9 L483.3,727.6 L486.8,728.4 L490.3,729.1 L493.8,729.8 L497.3,730.6 L500.8,731.3 L504.2,732.1 L507.7,732.8 L511.2,733.6 L514.7,734.4 L518.2,735.2 L521.7,736.1 L525.1,736.9 L528.6,737.8 L532.1,738.7 L535.6,739.6 L539.1,740.5 L542.6,741.5 L546.1,742.5 L549.5,743.6 L553.0,744.6 L556.5,745.7 L560.0,746.9 L563.5,748.0 L567.0,749.2 L570.5,750.3M291.6,670.9 L295.1,672.1 L298.6,673.3 L302.1,674.5 L305.6,675.7 L309.1,676.8 L312.6,678.0 L316.0,679.1 L319.5,680.2 L323.0,681.3 L326.5,682.4 L330.0,683.4 L333.5,684.4 L337.0,685.4 L340.4,686.4 L343.9,687.4 L347.4,688.4 L350.9,689.3 L354.4,690.2 L357.9,691.1 L361.3,692.0 L364.8,692.9 L368.3,693.8 L371.8,694.6 L375.3,695.4 L378.8,696.2 L382.3,697.0 L385.7,697.8 L389.2,698.6 L392.7,699.3 L396.2,700.0 L399.7,700.7 L403.2,701.3 L406.7,702.0 L410.1,702.6 L413.6,703.2 L417.1,703.8 L420.6,704.4 L424.1,705.0 L427.6,705.6 L431.0,706.2 L434.5,706.8 L438.0,707.3 L441.5,707.9 L445.0,708.4 L448.5,709.0 L452.0,709.5 L455.4,710.1 L458.9,710.7 L462.4,711.4 L465.9,712.1 L469.4,712.8 L472.9,713.5 L476.4,714.3 L479.8,715.2 L483.3,716.0 L486.8,716.9 L490.3,717.8 L493.8,718.7 L497.3,719.6 L500.8,720.6 L504.2,721.5 L507.7,722.4 L511.2,723.4 L514.7,724.4 L518.2,725.4 L521.7,726.4 L525.1,727.4 L528.6,728.5 L532.1,729.5 L535.6,730.6 L539.1,731.8 L542.6,732.9 L546.1,734.1 L549.5,735.3 L553.0,736.6 L556.5,737.8 L560.0,739.1 L563.5,740.4 L567.0,741.7 L570.5,743.0M291.6,654.7 L295.1,656.1 L298.6,657.4 L302.1,658.8 L305.6,660.1 L309.1,661.4 L312.6,662.7 L316.0,663.9 L319.5,665.1 L323.0,666.3 L326.5,667.5 L330.0,668.7 L333.5,669.8 L337.0,670.9 L340.4,672.0 L343.9,673.1 L347.4,674.1 L350.9,675.1 L354.4,676.1 L357.9,677.1 L361.3,678.1 L364.8,679.0 L368.3,679.9 L371.8,680.8 L375.3,681.7 L378.8,682.6 L382.3,683.5 L385.7,684.3 L389.2,685.1 L392.7,685.9 L396.2,686.6 L399.7,687.4 L403.2,688.2 L406.7,688.9 L410.1,689.7 L413.6,690.5 L417.1,691.3 L420.6,692.0 L424.1,692.7 L427.6,693.4 L431.0,694.1 L434.5,694.7 L438.0,695.3 L441.5,695.8 L445.0,696.4 L448.5,696.9 L452.0,697.5 L455.4,698.1 L458.9,698.7 L462.4,699.4 L465.9,700.1 L469.4,700.9 L472.9,701.7 L476.4,702.6 L479.8,703.5 L483.3,704.5 L486.8,705.4 L490.3,706.4 L493.8,707.5 L497.3,708.5 L500.8,709.5 L504.2,710.6 L507.7,711.6 L511.2,712.7 L514.7,713.8 L518.2,715.0 L521.7,716.1 L525.1,717.3 L528.6,718.5 L532.1,719.7 L535.6,721.0 L539.1,722.3 L542.6,723.6 L546.1,725.0 L549.5,726.4 L553.0,727.8 L556.5,729.2 L560.0,730.7 L563.5,732.1 L567.0,733.6 L570.5,735.1M291.6,632.9 L295.1,634.5 L298.6,636.0 L302.1,637.6 L305.6,639.1 L309.1,640.5 L312.6,642.0 L316.0,643.4 L319.5,644.8 L323.0,646.2 L326.5,647.5 L330.0,648.9 L333.5,650.2 L337.0,651.4 L340.4,652.7 L343.9,653.9 L347.4,655.2 L350.9,656.3 L354.4,657.5 L357.9,658.7 L361.3,659.8 L364.8,660.9 L368.3,661.9 L371.8,663.0 L375.3,664.0 L378.8,665.1 L382.3,666.1 L385.7,667.0 L389.2,668.0 L392.7,668.9 L396.2,669.8 L399.7,670.6 L403.2,671.5 L406.7,672.3 L410.1,673.1 L413.6,673.9 L417.1,674.6 L420.6,675.4 L424.1,676.1 L427.6,676.9 L431.0,677.6 L434.5,678.3 L438.0,679.0 L441.5,679.7 L445.0,680.3 L448.5,681.0 L452.0,681.7 L455.4,682.4 L458.9,683.1 L462.4,683.9 L465.9,684.7 L469.4,685.6 L472.9,686.6 L476.4,687.6 L479.8,688.6 L483.3,689.7 L486.8,690.8 L490.3,691.9 L493.8,693.0 L497.3,694.2 L500.8,695.3 L504.2,696.5 L507.7,697.6 L511.2,698.9 L514.7,700.1 L518.2,701.3 L521.7,702.6 L525.1,703.9 L528.6,705.2 L532.1,706.6 L535.6,708.0 L539.1,709.4 L542.6,710.9 L546.1,712.4 L549.5,713.9 L553.0,715.4 L556.5,717.0 L560.0,718.6 L563.5,720.3 L567.0,721.9 L570.5,723.5M291.6,616.4 L295.1,618.1 L298.6,619.8 L302.1,621.4 L305.6,623.1 L309.1,624.7 L312.6,626.2 L316.0,627.8 L319.5,629.3 L323.0,630.8 L326.5,632.3 L330.0,633.7 L333.5,635.1 L337.0,636.5 L340.4,637.8 L343.9,639.2 L347.4,640.5 L350.9,641.8 L354.4,643.0 L357.9,644.2 L361.3,645.4 L364.8,646.6 L368.3,647.8 L371.8,648.9 L375.3,650.0 L378.8,651.1 L382.3,652.2 L385.7,653.3 L389.2,654.3 L392.7,655.3 L396.2,656.2 L399.7,657.1 L403.2,658.0 L406.7,658.9 L410.1,659.8 L413.6,660.7 L417.1,661.5 L420.6,662.4 L424.1,663.2 L427.6,664.0 L431.0,664.8 L434.5,665.5 L438.0,666.3 L441.5,667.0 L445.0,667.7 L448.5,668.4 L452.0,669.1 L455.4,669.9 L458.9,670.7 L462.4,671.5 L465.9,672.4 L469.4,673.4 L472.9,674.4 L476.4,675.5 L479.8,676.7 L483.3,677.9 L486.8,679.1 L490.3,680.3 L493.8,681.6 L497.3,682.9 L500.8,684.2 L504.2,685.5 L507.7,686.8 L511.2,688.2 L514.7,689.6 L518.2,691.0 L521.7,692.5 L525.1,693.9 L528.6,695.4 L532.1,697.0 L535.6,698.6 L539.1,700.2 L542.6,701.8 L546.1,703.5 L549.5,705.2 L553.0,707.0 L556.5,708.8 L560.0,710.6 L563.5,712.4 L567.0,714.3 L570.5,716.1M291.6,597.2 L295.1,599.0 L298.6,600.9 L302.1,602.7 L305.6,604.5 L309.1,606.3 L312.6,608.0 L316.0,609.8 L319.5,611.5 L323.0,613.1 L326.5,614.7 L330.0,616.3 L333.5,617.8 L337.0,619.4 L340.4,620.9 L343.9,622.3 L347.4,623.8 L350.9,625.2 L354.4,626.5 L357.9,627.9 L361.3,629.2 L364.8,630.5 L368.3,631.7 L371.8,632.9 L375.3,634.1 L378.8,635.3 L382.3,636.4 L385.7,637.5 L389.2,638.6 L392.7,639.6 L396.2,640.6 L399.7,641.5 L403.2,642.4 L406.7,643.2 L410.1,644.1 L413.6,644.8 L417.1,645.6 L420.6,646.4 L424.1,647.2 L427.6,648.0 L431.0,648.8 L434.5,649.6 L438.0,650.4 L441.5,651.3 L445.0,652.1 L448.5,652.9 L452.0,653.7 L455.4,654.6 L458.9,655.5 L462.4,656.5 L465.9,657.5 L469.4,658.5 L472.9,659.7 L476.4,660.9 L479.8,662.1 L483.3,663.4 L486.8,664.7 L490.3,666.1 L493.8,667.4 L497.3,668.8 L500.8,670.2 L504.2,671.6 L507.7,673.0 L511.2,674.5 L514.7,675.9 L518.2,677.5 L521.7,679.0 L525.1,680.6 L528.6,682.2 L532.1,683.8 L535.6,685.5 L539.1,687.2 L542.6,689.0 L546.1,690.8 L549.5,692.7 L553.0,694.6 L556.5,696.5 L560.0,698.5 L563.5,700.5 L567.0,702.5 L570.5,704.5M291.6,579.9 L295.1,582.0 L298.6,584.0 L302.1,585.9 L305.6,587.9 L309.1,589.8 L312.6,591.7 L316.0,593.5 L319.5,595.4 L323.0,597.1 L326.5,598.9 L330.0,600.6 L333.5,602.2 L337.0,603.9 L340.4,605.5 L343.9,607.0 L347.4,608.6 L350.9,610.1 L354.4,611.6 L357.9,613.0 L361.3,614.4 L364.8,615.8 L368.3,617.2 L371.8,618.5 L375.3,619.8 L378.8,621.1 L382.3,622.4 L385.7,623.6 L389.2,624.8 L392.7,625.9 L396.2,627.0 L399.7,628.0 L403.2,629.1 L406.7,630.1 L410.1,631.1 L413.6,632.0 L417.1,633.0 L420.6,633.9 L424.1,634.8 L427.6,635.7 L431.0,636.6 L434.5,637.5 L438.0,638.4 L441.5,639.2 L445.0,640.1 L448.5,640.9 L452.0,641.8 L455.4,642.7 L458.9,643.7 L462.4,644.7 L465.9,645.8 L469.4,646.9 L472.9,648.1 L476.4,649.4 L479.8,650.8 L483.3,652.2 L486.8,653.6 L490.3,655.1 L493.8,656.5 L497.3,658.0 L500.8,659.6 L504.2,661.1 L507.7,662.6 L511.2,664.2 L514.7,665.9 L518.2,667.5 L521.7,669.2 L525.1,671.0 L528.6,672.7 L532.1,674.5 L535.6,676.4 L539.1,678.3 L542.6,680.2 L546.1,682.2 L549.5,684.2 L553.0,686.3 L556.5,688.4 L560.0,690.6 L563.5,692.7 L567.0,694.9 L570.5,697.1M291.6,554.6 L295.1,556.8 L298.6,559.0 L302.1,561.2 L305.6,563.3 L309.1,565.5 L312.6,567.5 L316.0,569.6 L319.5,571.5 L323.0,573.5 L326.5,575.4 L330.0,577.2 L333.5,579.1 L337.0,580.9 L340.4,582.6 L343.9,584.3 L347.4,586.0 L350.9,587.7 L354.4,589.3 L357.9,590.9 L361.3,592.4 L364.8,593.9 L368.3,595.4 L371.8,596.8 L375.3,598.2 L378.8,599.6 L382.3,601.0 L385.7,602.3 L389.2,603.6 L392.7,604.8 L396.2,606.0 L399.7,607.1 L403.2,608.3 L406.7,609.4 L410.1,610.5 L413.6,611.5 L417.1,612.6 L420.6,613.6 L424.1,614.6 L427.6,615.6 L431.0,616.6 L434.5,617.5 L438.0,618.5 L441.5,619.4 L445.0,620.3 L448.5,621.2 L452.0,622.1 L455.4,623.1 L458.9,624.1 L462.4,625.1 L465.9,626.3 L469.4,627.5 L472.9,628.8 L476.4,630.1 L479.8,631.6 L483.3,633.0 L486.8,634.6 L490.3,636.1 L493.8,637.7 L497.3,639.3 L500.8,640.9 L504.2,642.5 L507.7,644.2 L511.2,645.9 L514.7,647.6 L518.2,649.4 L521.7,651.2 L525.1,653.0 L528.6,654.9 L532.1,656.8 L535.6,658.8 L539.1,660.8 L542.6,662.9 L546.1,665.0 L549.5,667.2 L553.0,669.4 L556.5,671.6 L560.0,673.9 L563.5,676.2 L567.0,678.6 L570.5,680.9M291.6,537.1 L295.1,539.5 L298.6,541.9 L302.1,544.2 L305.6,546.5 L309.1,548.7 L312.6,550.9 L316.0,553.1 L319.5,555.2 L323.0,557.3 L326.5,559.3 L330.0,561.3 L333.5,563.2 L337.0,565.2 L340.4,567.0 L343.9,568.9 L347.4,570.7 L350.9,572.5 L354.4,574.2 L357.9,575.9 L361.3,577.6 L364.8,579.2 L368.3,580.8 L371.8,582.4 L375.3,583.9 L378.8,585.4 L382.3,586.9 L385.7,588.3 L389.2,589.7 L392.7,591.0 L396.2,592.3 L399.7,593.5 L403.2,594.7 L406.7,595.8 L410.1,596.9 L413.6,597.9 L417.1,599.0 L420.6,600.0 L424.1,601.1 L427.6,602.1 L431.0,603.2 L434.5,604.3 L438.0,605.3 L441.5,606.4 L445.0,607.4 L448.5,608.5 L452.0,609.5 L455.4,610.6 L458.9,611.8 L462.4,613.0 L465.9,614.3 L469.4,615.7 L472.9,617.1 L476.4,618.6 L479.8,620.2 L483.3,621.9 L486.8,623.5 L490.3,625.2 L493.8,627.0 L497.3,628.7 L500.8,630.5 L504.2,632.2 L507.7,634.0 L511.2,635.8 L514.7,637.7 L518.2,639.6 L521.7,641.5 L525.1,643.5 L528.6,645.5 L532.1,647.5 L535.6,649.6 L539.1,651.7 L542.6,653.9 L546.1,656.2 L549.5,658.5 L553.0,660.8 L556.5,663.2 L560.0,665.6 L563.5,668.0 L567.0,670.4 L570.5,672.9M291.6,519.8 L295.1,522.4 L298.6,524.9 L302.1,527.3 L305.6,529.8 L309.1,532.2 L312.6,534.5 L316.0,536.8 L319.5,539.1 L323.0,541.3 L326.5,543.5 L330.0,545.6 L333.5,547.7 L337.0,549.8 L340.4,551.8 L343.9,553.8 L347.4,555.7 L350.9,557.6 L354.4,559.5 L357.9,561.3 L361.3,563.1 L364.8,564.8 L368.3,566.5 L371.8,568.2 L375.3,569.8 L378.8,571.4 L382.3,572.9 L385.7,574.4 L389.2,575.9 L392.7,577.3 L396.2,578.6 L399.7,579.9 L403.2,581.1 L406.7,582.3 L410.1,583.4 L413.6,584.5 L417.1,585.6 L420.6,586.6 L424.1,587.7 L427.6,588.8 L431.0,589.9 L434.5,591.0 L438.0,592.1 L441.5,593.2 L445.0,594.2 L448.5,595.3 L452.0,596.3 L455.4,597.5 L458.9,598.6 L462.4,599.9 L465.9,601.2 L469.4,602.6 L472.9,604.1 L476.4,605.7 L479.8,607.4 L483.3,609.1 L486.8,610.9 L490.3,612.7 L493.8,614.6 L497.3,616.4 L500.8,618.3 L504.2,620.2 L507.7,622.1 L511.2,624.1 L514.7,626.1 L518.2,628.1 L521.7,630.2 L525.1,632.3 L528.6,634.5 L532.1,636.7 L535.6,639.0 L539.1,641.3 L542.6,643.7 L546.1,646.1 L549.5,648.6 L553.0,651.1 L556.5,653.7 L560.0,656.3 L563.5,658.9 L567.0,661.5 L570.5,664.2M291.6,502.4 L295.1,505.1 L298.6,507.8 L302.1,510.4 L305.6,513.0 L309.1,515.5 L312.6,518.0 L316.0,520.5 L319.5,522.9 L323.0,525.2 L326.5,527.5 L330.0,529.8 L333.5,532.0 L337.0,534.2 L340.4,536.3 L343.9,538.4 L347.4,540.4 L350.9,542.4 L354.4,544.4 L357.9,546.3 L361.3,548.2 L364.8,550.0 L368.3,551.8 L371.8,553.6 L375.3,555.3 L378.8,557.0 L382.3,558.6 L385.7,560.2 L389.2,561.7 L392.7,563.2 L396.2,564.7 L399.7,566.0 L403.2,567.3 L406.7,568.5 L410.1,569.7 L413.6,570.9 L417.1,572.1 L420.6,573.2 L424.1,574.4 L427.6,575.5 L431.0,576.8 L434.5,578.0 L438.0,579.2 L441.5,580.4 L445.0,581.6 L448.5,582.9 L452.0,584.1 L455.4,585.4 L458.9,586.7 L462.4,588.1 L465.9,589.6 L469.4,591.1 L472.9,592.8 L476.4,594.5 L479.8,596.3 L483.3,598.2 L486.8,600.1 L490.3,602.0 L493.8,604.0 L497.3,606.0 L500.8,608.0 L504.2,610.0 L507.7,612.0 L511.2,614.1 L514.7,616.2 L518.2,618.4 L521.7,620.6 L525.1,622.8 L528.6,625.1 L532.1,627.4 L535.6,629.8 L539.1,632.2 L542.6,634.7 L546.1,637.3 L549.5,639.9 L553.0,642.6 L556.5,645.3 L560.0,648.0 L563.5,650.8 L567.0,653.6 L570.5,656.3M291.6,479.7 L295.1,482.5 L298.6,485.4 L302.1,488.1 L305.6,490.9 L309.1,493.6 L312.6,496.3 L316.0,499.0 L319.5,501.6 L323.0,504.2 L326.5,506.7 L330.0,509.1 L333.5,511.6 L337.0,514.0 L340.4,516.3 L343.9,518.6 L347.4,520.9 L350.9,523.1 L354.4,525.3 L357.9,527.4 L361.3,529.5 L364.8,531.5 L368.3,533.5 L371.8,535.4 L375.3,537.3 L378.8,539.2 L382.3,541.0 L385.7,542.7 L389.2,544.4 L392.7,546.0 L396.2,547.5 L399.7,549.0 L403.2,550.3 L406.7,551.6 L410.1,552.9 L413.6,554.1 L417.1,555.2 L420.6,556.4 L424.1,557.6 L427.6,558.8 L431.0,560.1 L434.5,561.4 L438.0,562.7 L441.5,563.9 L445.0,565.2 L448.5,566.5 L452.0,567.8 L455.4,569.2 L458.9,570.6 L462.4,572.1 L465.9,573.6 L469.4,575.3 L472.9,577.1 L476.4,578.9 L479.8,580.9 L483.3,582.9 L486.8,584.9 L490.3,587.0 L493.8,589.1 L497.3,591.3 L500.8,593.4 L504.2,595.6 L507.7,597.8 L511.2,600.0 L514.7,602.3 L518.2,604.6 L521.7,606.9 L525.1,609.3 L528.6,611.8 L532.1,614.3 L535.6,616.8 L539.1,619.4 L542.6,622.0 L546.1,624.7 L549.5,627.5 L553.0,630.3 L556.5,633.2 L560.0,636.0 L563.5,638.9 L567.0,641.8 L570.5,644.8M291.6,462.3 L295.1,465.4 L298.6,468.4 L302.1,471.4 L305.6,474.5 L309.1,477.5 L312.6,480.4 L316.0,483.3 L319.5,486.1 L323.0,488.9 L326.5,491.5 L330.0,494.1 L333.5,496.6 L337.0,499.0 L340.4,501.4 L343.9,503.8 L347.4,506.1 L350.9,508.4 L354.4,510.6 L357.9,512.8 L361.3,514.9 L364.8,516.9 L368.3,519.0 L371.8,520.9 L375.3,522.9 L378.8,524.8 L382.3,526.6 L385.7,528.4 L389.2,530.1 L392.7,531.8 L396.2,533.4 L399.7,534.9 L403.2,536.3 L406.7,537.7 L410.1,539.0 L413.6,540.3 L417.1,541.6 L420.6,542.9 L424.1,544.1 L427.6,545.5 L431.0,546.8 L434.5,548.2 L438.0,549.5 L441.5,550.8 L445.0,552.1 L448.5,553.5 L452.0,554.9 L455.4,556.3 L458.9,557.7 L462.4,559.3 L465.9,560.9 L469.4,562.6 L472.9,564.5 L476.4,566.4 L479.8,568.4 L483.3,570.5 L486.8,572.7 L490.3,574.9 L493.8,577.1 L497.3,579.3 L500.8,581.5 L504.2,583.8 L507.7,586.1 L511.2,588.4 L514.7,590.8 L518.2,593.3 L521.7,595.7 L525.1,598.2 L528.6,600.8 L532.1,603.4 L535.6,606.1 L539.1,608.8 L542.6,611.6 L546.1,614.5 L549.5,617.4 L553.0,620.4 L556.5,623.4 L560.0,626.5 L563.5,629.5 L567.0,632.6 L570.5,635.7M291.6,446.6 L295.1,449.7 L298.6,452.9 L302.1,456.2 L305.6,459.5 L309.1,462.7 L312.6,465.9 L316.0,469.0 L319.5,472.0 L323.0,474.8 L326.5,477.5 L330.0,480.1 L333.5,482.6 L337.0,485.1 L340.4,487.5 L343.9,489.9 L347.4,492.2 L350.9,494.5 L354.4,496.7 L357.9,498.9 L361.3,501.0 L364.8,503.1 L368.3,505.1 L371.8,507.2 L375.3,509.1 L378.8,511.1 L382.3,512.9 L385.7,514.8 L389.2,516.5 L392.7,518.2 L396.2,519.9 L399.7,521.5 L403.2,522.9 L406.7,524.3 L410.1,525.7 L413.6,527.0 L417.1,528.4 L420.6,529.7 L424.1,531.0 L427.6,532.4 L431.0,533.8 L434.5,535.3 L438.0,536.8 L441.5,538.2 L445.0,539.7 L448.5,541.2 L452.0,542.7 L455.4,544.3 L458.9,545.9 L462.4,547.6 L465.9,549.4 L469.4,551.2 L472.9,553.2 L476.4,555.3 L479.8,557.4 L483.3,559.7 L486.8,561.9 L490.3,564.3 L493.8,566.6 L497.3,569.0 L500.8,571.4 L504.2,573.8 L507.7,576.2 L511.2,578.7 L514.7,581.2 L518.2,583.7 L521.7,586.4 L525.1,589.0 L528.6,591.7 L532.1,594.5 L535.6,597.2 L539.1,600.1 L542.6,603.0 L546.1,606.0 L549.5,609.1 L553.0,612.2 L556.5,615.4 L560.0,618.5 L563.5,621.7 L567.0,625.0 L570.5,628.2M291.6,429.9 L295.1,433.2 L298.6,436.6 L302.1,440.1 L305.6,443.6 L309.1,447.1 L312.6,450.5 L316.0,453.8 L319.5,457.1 L323.0,460.1 L326.5,462.9 L330.0,465.6 L333.5,468.2 L337.0,470.7 L340.4,473.2 L343.9,475.6 L347.4,477.9 L350.9,480.2 L354.4,482.5 L357.9,484.7 L361.3,486.8 L364.8,489.0 L368.3,491.1 L371.8,493.1 L375.3,495.1 L378.8,497.1 L382.3,499.0 L385.7,500.9 L389.2,502.7 L392.7,504.5 L396.2,506.2 L399.7,507.8 L403.2,509.3 L406.7,510.8 L410.1,512.2 L413.6,513.6 L417.1,515.0 L420.6,516.4 L424.1,517.8 L427.6,519.2 L431.0,520.8 L434.5,522.3 L438.0,523.8 L441.5,525.4 L445.0,526.9 L448.5,528.5 L452.0,530.1 L455.4,531.7 L458.9,533.5 L462.4,535.2 L465.9,537.1 L469.4,539.0 L472.9,541.1 L476.4,543.3 L479.8,545.5 L483.3,547.9 L486.8,550.3 L490.3,552.7 L493.8,555.2 L497.3,557.7 L500.8,560.2 L504.2,562.8 L507.7,565.3 L511.2,568.0 L514.7,570.6 L518.2,573.3 L521.7,576.1 L525.1,578.9 L528.6,581.8 L532.1,584.7 L535.6,587.6 L539.1,590.6 L542.6,593.7 L546.1,596.9 L549.5,600.1 L553.0,603.4 L556.5,606.7 L560.0,610.1 L563.5,613.4 L567.0,616.8 L570.5,620.2M291.6,404.9 L295.1,408.4 L298.6,412.0 L302.1,415.5 L305.6,419.1 L309.1,422.6 L312.6,426.1 L316.0,429.5 L319.5,432.8 L323.0,436.0 L326.5,438.9 L330.0,441.8 L333.5,444.6 L337.0,447.4 L340.4,450.1 L343.9,452.7 L347.4,455.3 L350.9,457.8 L354.4,460.3 L357.9,462.7 L361.3,465.1 L364.8,467.4 L368.3,469.6 L371.8,471.8 L375.3,473.9 L378.8,476.0 L382.3,478.0 L385.7,480.0 L389.2,481.9 L392.7,483.8 L396.2,485.6 L399.7,487.4 L403.2,489.0 L406.7,490.6 L410.1,492.2 L413.6,493.7 L417.1,495.2 L420.6,496.6 L424.1,498.1 L427.6,499.7 L431.0,501.2 L434.5,502.8 L438.0,504.3 L441.5,505.8 L445.0,507.4 L448.5,508.9 L452.0,510.4 L455.4,512.0 L458.9,513.7 L462.4,515.5 L465.9,517.4 L469.4,519.4 L472.9,521.6 L476.4,523.8 L479.8,526.2 L483.3,528.6 L486.8,531.1 L490.3,533.7 L493.8,536.3 L497.3,538.9 L500.8,541.5 L504.2,544.1 L507.7,546.8 L511.2,549.5 L514.7,552.3 L518.2,555.1 L521.7,557.9 L525.1,560.9 L528.6,563.8 L532.1,566.8 L535.6,569.9 L539.1,573.0 L542.6,576.2 L546.1,579.5 L549.5,582.9 L553.0,586.3 L556.5,589.7 L560.0,593.2 L563.5,596.7 L567.0,600.2 L570.5,603.7M291.6,388.9 L295.1,392.5 L298.6,396.1 L302.1,399.8 L305.6,403.4 L309.1,407.0 L312.6,410.5 L316.0,413.9 L319.5,417.3 L323.0,420.5 L326.5,423.6 L330.0,426.6 L333.5,429.5 L337.0,432.4 L340.4,435.2 L343.9,438.0 L347.4,440.7 L350.9,443.4 L354.4,446.0 L357.9,448.5 L361.3,451.0 L364.8,453.4 L368.3,455.7 L371.8,458.0 L375.3,460.2 L378.8,462.3 L382.3,464.4 L385.7,466.4 L389.2,468.4 L392.7,470.4 L396.2,472.3 L399.7,474.1 L403.2,475.9 L406.7,477.6 L410.1,479.3 L413.6,481.0 L417.1,482.7 L420.6,484.3 L424.1,485.9 L427.6,487.6 L431.0,489.3 L434.5,490.9 L438.0,492.4 L441.5,493.9 L445.0,495.4 L448.5,496.9 L452.0,498.4 L455.4,500.0 L458.9,501.6 L462.4,503.4 L465.9,505.4 L469.4,507.5 L472.9,509.8 L476.4,512.1 L479.8,514.6 L483.3,517.1 L486.8,519.7 L490.3,522.4 L493.8,525.1 L497.3,527.8 L500.8,530.6 L504.2,533.3 L507.7,536.1 L511.2,539.0 L514.7,541.9 L518.2,544.8 L521.7,547.9 L525.1,550.9 L528.6,554.0 L532.1,557.2 L535.6,560.4 L539.1,563.7 L542.6,567.1 L546.1,570.5 L549.5,574.0 L553.0,577.6 L556.5,581.2 L560.0,584.9 L563.5,588.5 L567.0,592.2 L570.5,595.9M291.6,372.2 L295.1,376.0 L298.6,379.7 L302.1,383.4 L305.6,387.1 L309.1,390.7 L312.6,394.2 L316.0,397.7 L319.5,401.1 L323.0,404.4 L326.5,407.5 L330.0,410.6 L333.5,413.7 L337.0,416.7 L340.4,419.6 L343.9,422.5 L347.4,425.3 L350.9,428.0 L354.4,430.7 L357.9,433.3 L361.3,435.9 L364.8,438.4 L368.3,440.8 L371.8,443.2 L375.3,445.5 L378.8,447.8 L382.3,450.0 L385.7,452.1 L389.2,454.2 L392.7,456.3 L396.2,458.3 L399.7,460.2 L403.2,462.0 L406.7,463.8 L410.1,465.6 L413.6,467.3 L417.1,468.9 L420.6,470.6 L424.1,472.3 L427.6,474.0 L431.0,475.7 L434.5,477.5 L438.0,479.2 L441.5,480.8 L445.0,482.5 L448.5,484.2 L452.0,485.9 L455.4,487.7 L458.9,489.6 L462.4,491.6 L465.9,493.7 L469.4,495.9 L472.9,498.2 L476.4,500.7 L479.8,503.3 L483.3,506.0 L486.8,508.8 L490.3,511.6 L493.8,514.4 L497.3,517.3 L500.8,520.2 L504.2,523.1 L507.7,526.0 L511.2,529.0 L514.7,532.1 L518.2,535.2 L521.7,538.3 L525.1,541.6 L528.6,544.8 L532.1,548.1 L535.6,551.5 L539.1,555.0 L542.6,558.5 L546.1,562.1 L549.5,565.8 L553.0,569.6 L556.5,573.4 L560.0,577.2 L563.5,581.1 L567.0,584.9 L570.5,588.8M291.6,355.5 L295.1,359.3 L298.6,363.1 L302.1,366.8 L305.6,370.4 L309.1,374.0 L312.6,377.6 L316.0,381.1 L319.5,384.5 L323.0,387.8 L326.5,391.1 L330.0,394.3 L333.5,397.5 L337.0,400.6 L340.4,403.8 L343.9,406.8 L347.4,409.8 L350.9,412.8 L354.4,415.6 L357.9,418.4 L361.3,421.1 L364.8,423.7 L368.3,426.3 L371.8,428.8 L375.3,431.2 L378.8,433.6 L382.3,435.9 L385.7,438.1 L389.2,440.3 L392.7,442.5 L396.2,444.6 L399.7,446.6 L403.2,448.5 L406.7,450.4 L410.1,452.2 L413.6,454.0 L417.1,455.8 L420.6,457.5 L424.1,459.3 L427.6,461.1 L431.0,463.0 L434.5,464.8 L438.0,466.6 L441.5,468.4 L445.0,470.2 L448.5,472.0 L452.0,473.9 L455.4,475.8 L458.9,477.8 L462.4,479.9 L465.9,482.1 L469.4,484.5 L472.9,487.0 L476.4,489.6 L479.8,492.4 L483.3,495.2 L486.8,498.1 L490.3,501.1 L493.8,504.1 L497.3,507.2 L500.8,510.2 L504.2,513.2 L507.7,516.4 L511.2,519.5 L514.7,522.7 L518.2,526.0 L521.7,529.3 L525.1,532.7 L528.6,536.1 L532.1,539.6 L535.6,543.1 L539.1,546.7 L542.6,550.4 L546.1,554.2 L549.5,558.0 L553.0,561.9 L556.5,565.8 L560.0,569.8 L563.5,573.8 L567.0,577.8 L570.5,581.8M291.6,339.3 L295.1,343.3 L298.6,347.2 L302.1,351.0 L305.6,354.8 L309.1,358.6 L312.6,362.2 L316.0,365.8 L319.5,369.4 L323.0,372.8 L326.5,376.2 L330.0,379.5 L333.5,382.8 L337.0,385.9 L340.4,389.1 L343.9,392.2 L347.4,395.2 L350.9,398.1 L354.4,401.0 L357.9,403.8 L361.3,406.6 L364.8,409.3 L368.3,412.0 L371.8,414.6 L375.3,417.2 L378.8,419.7 L382.3,422.2 L385.7,424.6 L389.2,426.9 L392.7,429.1 L396.2,431.3 L399.7,433.4 L403.2,435.4 L406.7,437.3 L410.1,439.1 L413.6,440.9 L417.1,442.7 L420.6,444.5 L424.1,446.3 L427.6,448.1 L431.0,450.0 L434.5,451.9 L438.0,453.8 L441.5,455.7 L445.0,457.6 L448.5,459.5 L452.0,461.4 L455.4,463.4 L458.9,465.5 L462.4,467.7 L465.9,470.0 L469.4,472.4 L472.9,475.0 L476.4,477.8 L479.8,480.6 L483.3,483.5 L486.8,486.6 L490.3,489.6 L493.8,492.7 L497.3,495.9 L500.8,499.0 L504.2,502.2 L507.7,505.4 L511.2,508.6 L514.7,512.0 L518.2,515.4 L521.7,518.8 L525.1,522.3 L528.6,525.8 L532.1,529.4 L535.6,533.1 L539.1,536.8 L542.6,540.7 L546.1,544.6 L549.5,548.6 L553.0,552.7 L556.5,556.8 L560.0,560.9 L563.5,565.1 L567.0,569.2 L570.5,573.4M291.6,297.0 L295.1,301.2 L298.6,305.2 L302.1,309.1 L305.6,312.8 L309.1,316.5 L312.6,320.3 L316.0,324.0 L319.5,327.8 L323.0,331.5 L326.5,335.1 L330.0,338.7 L333.5,342.1 L337.0,345.5 L340.4,348.8 L343.9,352.2 L347.4,355.7 L350.9,359.1 L354.4,362.4 L357.9,365.6 L361.3,368.7 L364.8,371.7 L368.3,374.7 L371.8,377.6 L375.3,380.4 L378.8,383.1 L382.3,385.7 L385.7,388.2 L389.2,390.6 L392.7,393.0 L396.2,395.3 L399.7,397.5 L403.2,399.6 L406.7,401.7 L410.1,403.7 L413.6,405.7 L417.1,407.6 L420.6,409.5 L424.1,411.4 L427.6,413.3 L431.0,415.2 L434.5,417.1 L438.0,419.1 L441.5,421.0 L445.0,422.9 L448.5,424.9 L452.0,426.8 L455.4,428.6 L458.9,430.4 L462.4,432.3 L465.9,434.2 L469.4,436.3 L472.9,438.4 L476.4,440.7 L479.8,443.0 L483.3,445.4 L486.8,447.9 L490.3,450.4 L493.8,453.1 L497.3,455.8 L500.8,458.8 L504.2,461.9 L507.7,465.3 L511.2,468.9 L514.7,472.6 L518.2,476.3 L521.7,480.1 L525.1,484.0 L528.6,488.0 L532.1,492.0 L535.6,496.2 L539.1,500.4 L542.6,504.8 L546.1,509.2 L549.5,513.7 L553.0,518.1 L556.5,522.5 L560.0,527.0 L563.5,531.4 L567.0,535.9 L570.5,540.2M291.6,278.5 L295.1,282.9 L298.6,287.1 L302.1,291.2 L305.6,295.2 L309.1,299.2 L312.6,303.2 L316.0,307.2 L319.5,311.2 L323.0,315.1 L326.5,318.9 L330.0,322.5 L333.5,326.0 L337.0,329.3 L340.4,332.6 L343.9,336.0 L347.4,339.4 L350.9,342.8 L354.4,346.1 L357.9,349.4 L361.3,352.7 L364.8,355.9 L368.3,359.0 L371.8,362.1 L375.3,365.0 L378.8,367.9 L382.3,370.6 L385.7,373.3 L389.2,375.8 L392.7,378.3 L396.2,380.7 L399.7,383.0 L403.2,385.2 L406.7,387.4 L410.1,389.5 L413.6,391.5 L417.1,393.5 L420.6,395.5 L424.1,397.5 L427.6,399.5 L431.0,401.5 L434.5,403.5 L438.0,405.5 L441.5,407.5 L445.0,409.5 L448.5,411.5 L452.0,413.5 L455.4,415.3 L458.9,417.2 L462.4,419.1 L465.9,421.2 L469.4,423.3 L472.9,425.6 L476.4,427.9 L479.8,430.3 L483.3,432.8 L486.8,435.4 L490.3,438.0 L493.8,440.7 L497.3,443.6 L500.8,446.6 L504.2,449.9 L507.7,453.4 L511.2,457.1 L514.7,460.8 L518.2,464.7 L521.7,468.6 L525.1,472.6 L528.6,476.8 L532.1,481.0 L535.6,485.3 L539.1,489.7 L542.6,494.3 L546.1,498.9 L549.5,503.5 L553.0,508.1 L556.5,512.8 L560.0,517.4 L563.5,522.1 L567.0,526.7 L570.5,531.2M291.6,260.4 L295.1,265.0 L298.6,269.4 L302.1,273.7 L305.6,277.9 L309.1,282.1 L312.6,286.3 L316.0,290.5 L319.5,294.7 L323.0,298.8 L326.5,302.7 L330.0,306.4 L333.5,310.0 L337.0,313.5 L340.4,316.9 L343.9,320.4 L347.4,323.9 L350.9,327.3 L354.4,330.8 L357.9,334.2 L361.3,337.5 L364.8,340.8 L368.3,344.0 L371.8,347.2 L375.3,350.2 L378.8,353.2 L382.3,356.0 L385.7,358.7 L389.2,361.3 L392.7,363.8 L396.2,366.3 L399.7,368.7 L403.2,371.0 L406.7,373.3 L410.1,375.5 L413.6,377.6 L417.1,379.7 L420.6,381.8 L424.1,383.8 L427.6,385.9 L431.0,387.9 L434.5,390.0 L438.0,392.1 L441.5,394.1 L445.0,396.2 L448.5,398.3 L452.0,400.3 L455.4,402.3 L458.9,404.2 L462.4,406.2 L465.9,408.3 L469.4,410.5 L472.9,412.8 L476.4,415.2 L479.8,417.7 L483.3,420.3 L486.8,422.9 L490.3,425.6 L493.8,428.4 L497.3,431.4 L500.8,434.5 L504.2,437.9 L507.7,441.6 L511.2,445.4 L514.7,449.3 L518.2,453.3 L521.7,457.4 L525.1,461.6 L528.6,465.9 L532.1,470.3 L535.6,474.7 L539.1,479.3 L542.6,484.0 L546.1,488.7 L549.5,493.5 L553.0,498.3 L556.5,503.1 L560.0,507.9 L563.5,512.7 L567.0,517.5 L570.5,522.2M291.6,242.0 L295.1,246.7 L298.6,251.3 L302.1,255.9 L305.6,260.3 L309.1,264.7 L312.6,269.2 L316.0,273.6 L319.5,278.0 L323.0,282.3 L326.5,286.4 L330.0,290.2 L333.5,293.9 L337.0,297.5 L340.4,301.0 L343.9,304.6 L347.4,308.1 L350.9,311.7 L354.4,315.2 L357.9,318.7 L361.3,322.1 L364.8,325.4 L368.3,328.7 L371.8,331.9 L375.3,335.1 L378.8,338.1 L382.3,341.0 L385.7,343.7 L389.2,346.4 L392.7,349.0 L396.2,351.6 L399.7,354.1 L403.2,356.5 L406.7,358.9 L410.1,361.2 L413.6,363.4 L417.1,365.6 L420.6,367.8 L424.1,370.0 L427.6,372.1 L431.0,374.3 L434.5,376.4 L438.0,378.6 L441.5,380.7 L445.0,382.8 L448.5,385.0 L452.0,387.1 L455.4,389.1 L458.9,391.1 L462.4,393.2 L465.9,395.3 L469.4,397.6 L472.9,400.0 L476.4,402.5 L479.8,405.1 L483.3,407.8 L486.8,410.5 L490.3,413.3 L493.8,416.2 L497.3,419.3 L500.8,422.6 L504.2,426.1 L507.7,429.8 L511.2,433.8 L514.7,437.9 L518.2,442.0 L521.7,446.2 L525.1,450.5 L528.6,454.9 L532.1,459.5 L535.6,464.1 L539.1,468.8 L542.6,473.6 L546.1,478.6 L549.5,483.5 L553.0,488.5 L556.5,493.4 L560.0,498.4 L563.5,503.4 L567.0,508.3 L570.5,513.1M291.6,223.5 L295.1,228.4 L298.6,233.2 L302.1,237.9 L305.6,242.6 L309.1,247.2 L312.6,251.9 L316.0,256.5 L319.5,261.1 L323.0,265.6 L326.5,269.8 L330.0,273.8 L333.5,277.6 L337.0,281.3 L340.4,284.9 L343.9,288.6 L347.4,292.3 L350.9,296.0 L354.4,299.6 L357.9,303.2 L361.3,306.7 L364.8,310.1 L368.3,313.5 L371.8,316.9 L375.3,320.1 L378.8,323.2 L382.3,326.2 L385.7,329.0 L389.2,331.8 L392.7,334.5 L396.2,337.2 L399.7,339.8 L403.2,342.4 L406.7,344.8 L410.1,347.3 L413.6,349.7 L417.1,352.1 L420.6,354.4 L424.1,356.7 L427.6,359.0 L431.0,361.2 L434.5,363.4 L438.0,365.6 L441.5,367.7 L445.0,369.9 L448.5,372.0 L452.0,374.1 L455.4,376.1 L458.9,378.1 L462.4,380.2 L465.9,382.4 L469.4,384.8 L472.9,387.3 L476.4,389.9 L479.8,392.6 L483.3,395.4 L486.8,398.2 L490.3,401.2 L493.8,404.2 L497.3,407.4 L500.8,410.8 L504.2,414.5 L507.7,418.4 L511.2,422.5 L514.7,426.7 L518.2,431.0 L521.7,435.4 L525.1,439.9 L528.6,444.5 L532.1,449.1 L535.6,453.9 L539.1,458.8 L542.6,463.8 L546.1,468.8 L549.5,473.9 L553.0,479.0 L556.5,484.1 L560.0,489.2 L563.5,494.3 L567.0,499.3 L570.5,504.3" stroke="#231f20" stroke-width="2.2" fill="none" stroke-linejoin="round"/>
<rect x="85.4" y="73.9" width="29.8" height="17" fill="#fff"/>
<rect x="85.4" y="97.4" width="29.8" height="17" fill="#fff"/>
<rect x="85.4" y="119.7" width="29.8" height="17" fill="#fff"/>
<rect x="85.4" y="143.4" width="29.8" height="17" fill="#fff"/>
<rect x="85.4" y="165.0" width="29.8" height="17" fill="#fff"/>
<rect x="85.4" y="210.3" width="29.8" height="17" fill="#fff"/>
<rect x="85.4" y="232.1" width="29.8" height="17" fill="#fff"/>
<rect x="85.4" y="254.4" width="29.8" height="17" fill="#fff"/>
<rect x="85.4" y="275.3" width="29.8" height="17" fill="#fff"/>
<rect x="85.4" y="297.9" width="29.8" height="17" fill="#fff"/>
<rect x="85.4" y="325.5" width="29.8" height="17" fill="#fff"/>
<rect x="85.4" y="347.5" width="29.8" height="17" fill="#fff"/>
<rect x="85.4" y="368.4" width="29.8" height="17" fill="#fff"/>
<rect x="85.4" y="391.8" width="29.8" height="17" fill="#fff"/>
<rect x="85.4" y="416.6" width="29.8" height="17" fill="#fff"/>
<rect x="85.4" y="439.2" width="29.8" height="17" fill="#fff"/>
<rect x="85.4" y="460.2" width="29.8" height="17" fill="#fff"/>
<rect x="85.4" y="482.7" width="29.8" height="17" fill="#fff"/>
<rect x="85.4" y="511.5" width="29.8" height="17" fill="#fff"/>
<rect x="85.4" y="533.3" width="29.8" height="17" fill="#fff"/>
<rect x="85.4" y="556.8" width="29.8" height="17" fill="#fff"/>
<rect x="85.4" y="578.9" width="29.8" height="17" fill="#fff"/>
<rect x="89.0" y="603.6" width="20.8" height="17" fill="#fff"/>
<rect x="89.0" y="623.8" width="20.8" height="17" fill="#fff"/>
<rect x="89.0" y="646.0" width="20.8" height="17" fill="#fff"/>
<rect x="89.0" y="669.8" width="20.8" height="17" fill="#fff"/>
<rect x="89.0" y="691.8" width="20.8" height="17" fill="#fff"/>
<rect x="89.0" y="714.9" width="20.8" height="17" fill="#fff"/>
<rect x="89.0" y="739.6" width="20.8" height="17" fill="#fff"/>
<rect x="89.0" y="765.2" width="20.8" height="17" fill="#fff"/>
<text transform="translate(99.7,87.9) scale(1.06,1)" font-size="14.0" text-anchor="middle">31</text>
<text transform="translate(99.7,111.4) scale(1.06,1)" font-size="14.0" text-anchor="middle">30</text>
<text transform="translate(99.7,133.7) scale(1.06,1)" font-size="14.0" text-anchor="middle">29</text>
<text transform="translate(99.7,157.4) scale(1.06,1)" font-size="14.0" text-anchor="middle">28</text>
<text transform="translate(99.7,179.0) scale(1.06,1)" font-size="14.0" text-anchor="middle">27</text>
<text transform="translate(99.7,224.3) scale(1.06,1)" font-size="14.0" text-anchor="middle">26</text>
<text transform="translate(99.7,246.1) scale(1.06,1)" font-size="14.0" text-anchor="middle">25</text>
<text transform="translate(99.7,268.4) scale(1.06,1)" font-size="14.0" text-anchor="middle">24</text>
<text transform="translate(99.7,289.3) scale(1.06,1)" font-size="14.0" text-anchor="middle">23</text>
<text transform="translate(99.7,311.9) scale(1.06,1)" font-size="14.0" text-anchor="middle">22</text>
<text transform="translate(99.7,339.5) scale(1.06,1)" font-size="14.0" text-anchor="middle">21</text>
<text transform="translate(99.7,361.5) scale(1.06,1)" font-size="14.0" text-anchor="middle">20</text>
<text transform="translate(99.7,382.4) scale(1.06,1)" font-size="14.0" text-anchor="middle">19</text>
<text transform="translate(99.7,405.8) scale(1.06,1)" font-size="14.0" text-anchor="middle">18</text>
<text transform="translate(99.7,430.6) scale(1.06,1)" font-size="14.0" text-anchor="middle">17</text>
<text transform="translate(99.7,453.2) scale(1.06,1)" font-size="14.0" text-anchor="middle">16</text>
<text transform="translate(99.7,474.2) scale(1.06,1)" font-size="14.0" text-anchor="middle">15</text>
<text transform="translate(99.7,496.7) scale(1.06,1)" font-size="14.0" text-anchor="middle">14</text>
<text transform="translate(99.7,525.5) scale(1.06,1)" font-size="14.0" text-anchor="middle">13</text>
<text transform="translate(99.7,547.3) scale(1.06,1)" font-size="14.0" text-anchor="middle">12</text>
<text transform="translate(99.7,570.8) scale(1.06,1)" font-size="14.0" text-anchor="middle">11</text>
<text transform="translate(99.7,592.9) scale(1.06,1)" font-size="14.0" text-anchor="middle">10</text>
<text transform="translate(98.6,617.6) scale(1.06,1)" font-size="14.0" text-anchor="middle">9</text>
<text transform="translate(98.6,637.8) scale(1.06,1)" font-size="14.0" text-anchor="middle">8</text>
<text transform="translate(98.6,660.0) scale(1.06,1)" font-size="14.0" text-anchor="middle">7</text>
<text transform="translate(98.6,683.8) scale(1.06,1)" font-size="14.0" text-anchor="middle">6</text>
<text transform="translate(98.6,705.8) scale(1.06,1)" font-size="14.0" text-anchor="middle">5</text>
<text transform="translate(98.6,728.9) scale(1.06,1)" font-size="14.0" text-anchor="middle">4</text>
<text transform="translate(98.6,753.6) scale(1.06,1)" font-size="14.0" text-anchor="middle">3</text>
<text transform="translate(98.6,779.2) scale(1.06,1)" font-size="14.0" text-anchor="middle">2</text>
<path d="M43.7,41.0H674.5V820.4H43.7M47.7,41.0V820.4" stroke="#231f20" stroke-width="1.35" fill="none"/>
<path d="M47.5,41.0v-6.2M63.5,41.0v-6.2M79.5,41.0v-6.2M95.5,41.0v-6.2M111.5,41.0v-6.2M126.5,41.0v-6.2M142.5,41.0v-6.2M158.5,41.0v-6.2M174.5,41.0v-6.2M190.5,41.0v-6.2M206.5,41.0v-6.2M221.5,41.0v-6.2M237.5,41.0v-6.2M253.5,41.0v-6.2M269.5,41.0v-6.2M285.5,41.0v-6.2M300.5,41.0v-6.2M316.5,41.0v-6.2M332.5,41.0v-6.2M348.5,41.0v-6.2M364.5,41.0v-6.2M380.5,41.0v-6.2M395.5,41.0v-6.2M411.5,41.0v-6.2M427.5,41.0v-6.2M443.5,41.0v-6.2M459.5,41.0v-6.2M475.5,41.0v-6.2M490.5,41.0v-6.2M506.5,41.0v-6.2M522.5,41.0v-6.2M538.5,41.0v-6.2M554.5,41.0v-6.2M570.5,41.0v-6.2M585.5,41.0v-6.2M601.5,41.0v-6.2M617.5,41.0v-6.2M633.5,41.0v-6.2M649.5,41.0v-6.2M665.5,41.0v-6.2M47.70,820.4v5.6M117.40,820.4v5.6M187.10,820.4v5.6M256.80,820.4v5.6M326.50,820.4v5.6M396.20,820.4v5.6M465.90,820.4v5.6M535.60,820.4v5.6M605.30,820.4v5.6M675.00,820.4v5.6M674.5,819.5h6.3M674.5,806.5h6.3M674.5,793.5h6.3M674.5,780.5h6.3M674.5,767.5h6.3M674.5,753.5h6.3M674.5,740.5h6.3M674.5,727.5h6.3M674.5,714.5h6.3M674.5,701.5h6.3M674.5,688.5h6.3M674.5,674.5h6.3M674.5,661.5h6.3M674.5,648.5h6.3M674.5,635.5h6.3M674.5,622.5h6.3M674.5,608.5h6.3M674.5,595.5h6.3M674.5,582.5h6.3M674.5,569.5h6.3M674.5,556.5h6.3M674.5,542.5h6.3M674.5,529.5h6.3M674.5,516.5h6.3M674.5,503.5h6.3M674.5,490.5h6.3M674.5,477.5h6.3M674.5,463.5h6.3M674.5,450.5h6.3M674.5,437.5h6.3M674.5,424.5h6.3M674.5,411.5h6.3M674.5,397.5h6.3M674.5,384.5h6.3M674.5,371.5h6.3M674.5,358.5h6.3M674.5,345.5h6.3M674.5,332.5h6.3M674.5,318.5h6.3M674.5,305.5h6.3M674.5,292.5h6.3M674.5,279.5h6.3M674.5,266.5h6.3M674.5,252.5h6.3M674.5,239.5h6.3M674.5,226.5h6.3M674.5,213.5h6.3M674.5,200.5h6.3M674.5,186.5h6.3M674.5,173.5h6.3M674.5,160.5h6.3M674.5,147.5h6.3M674.5,134.5h6.3M674.5,121.5h6.3M674.5,107.5h6.3M674.5,94.5h6.3M674.5,81.5h6.3M674.5,68.5h6.3M674.5,55.5h6.3M674.5,41.5h6.3" stroke="#231f20" stroke-width="1.08" fill="none"/>
<text transform="translate(35.4,48.7) scale(1.06,1)" font-size="14.0" text-anchor="end">450</text>
<text transform="translate(35.4,132.8) scale(1.06,1)" font-size="14.0" text-anchor="end">400</text>
<text transform="translate(35.4,219.9) scale(1.06,1)" font-size="14.0" text-anchor="end">350</text>
<text transform="translate(35.4,307.4) scale(1.06,1)" font-size="14.0" text-anchor="end">300</text>
<text transform="translate(35.4,393.7) scale(1.06,1)" font-size="14.0" text-anchor="end">250</text>
<text transform="translate(35.4,480.2) scale(1.06,1)" font-size="14.0" text-anchor="end">200</text>
<text transform="translate(35.4,566.5) scale(1.06,1)" font-size="14.0" text-anchor="end">150</text>
<text transform="translate(35.4,652.8) scale(1.06,1)" font-size="14.0" text-anchor="end">100</text>
<text transform="translate(35.4,739.3) scale(1.06,1)" font-size="14.0" text-anchor="end">50</text>
<text transform="translate(35.4,825.8) scale(1.06,1)" font-size="14.0" text-anchor="end">0</text>
<text transform="translate(15.2,339.6) scale(1.2,1)" font-size="14.5" font-weight="bold">H</text>
<text transform="translate(14.6,359.7) scale(1.25,1)" font-size="14.5" font-weight="bold">m</text>
<text transform="translate(686.6,827.2) scale(1.06,1)" font-size="14.0">0</text>
<text transform="translate(686.6,773.4) scale(1.06,1)" font-size="14.0">100</text>
<text transform="translate(686.6,720.6) scale(1.06,1)" font-size="14.0">200</text>
<text transform="translate(686.6,667.9) scale(1.06,1)" font-size="14.0">300</text>
<text transform="translate(686.6,615.1) scale(1.06,1)" font-size="14.0">400</text>
<text transform="translate(686.6,562.4) scale(1.06,1)" font-size="14.0">500</text>
<text transform="translate(686.6,509.6) scale(1.06,1)" font-size="14.0">600</text>
<text transform="translate(686.6,456.9) scale(1.06,1)" font-size="14.0">700</text>
<text transform="translate(686.6,404.1) scale(1.06,1)" font-size="14.0">800</text>
<text transform="translate(686.6,351.4) scale(1.06,1)" font-size="14.0">900</text>
<text transform="translate(686.6,298.7) scale(1.06,1)" font-size="14.0">1000</text>
<text transform="translate(686.6,245.9) scale(1.06,1)" font-size="14.0">1100</text>
<text transform="translate(686.6,193.2) scale(1.06,1)" font-size="14.0">1200</text>
<text transform="translate(686.6,140.4) scale(1.06,1)" font-size="14.0">1300</text>
<text transform="translate(686.6,87.7) scale(1.06,1)" font-size="14.0">1400</text>
<text transform="translate(694.2,323.8) scale(1.06,1)" font-size="14.0">ft</text>
<text transform="translate(43.3,32.8) scale(1.06,1)" font-size="14.0">0</text>
<text transform="translate(74.6,26.5) scale(1.06,1)" font-size="14.0">U.S. g.p.m.</text>
<text transform="translate(202.5,32.9) scale(1.06,1)" font-size="14.0" text-anchor="middle">100</text>
<text transform="translate(283.4,32.9) scale(1.06,1)" font-size="14.0" text-anchor="middle">150</text>
<text transform="translate(363.9,32.9) scale(1.06,1)" font-size="14.0" text-anchor="middle">200</text>
<text transform="translate(443.6,32.9) scale(1.06,1)" font-size="14.0" text-anchor="middle">250</text>
<text transform="translate(522.6,32.9) scale(1.06,1)" font-size="14.0" text-anchor="middle">300</text>
<text transform="translate(600.8,32.9) scale(1.06,1)" font-size="14.0" text-anchor="middle">350</text>
<text transform="translate(43.6,840.0) scale(1.06,1)" font-size="14.0">0</text>
<text transform="translate(57.8,840.0) scale(1.2,1)" font-size="14.5" font-weight="bold">Q</text>
<text transform="translate(75.6,840.0) scale(1.15,1)" font-size="14.0">m<tspan font-size="9.2" dy="-2.3" dx="0.3">3</tspan><tspan dy="2.3" dx="0.3">/h</tspan></text>
<text transform="translate(109.9,840.0) scale(1.06,1)" font-size="14.0">10</text>
<text transform="translate(187.5,840.0) scale(1.06,1)" font-size="14.0" text-anchor="middle">20</text>
<text transform="translate(257.2,840.0) scale(1.06,1)" font-size="14.0" text-anchor="middle">30</text>
<text transform="translate(326.9,840.0) scale(1.06,1)" font-size="14.0" text-anchor="middle">40</text>
<text transform="translate(396.6,840.0) scale(1.06,1)" font-size="14.0" text-anchor="middle">50</text>
<text transform="translate(466.3,840.0) scale(1.06,1)" font-size="14.0" text-anchor="middle">60</text>
<text transform="translate(536.0,840.0) scale(1.06,1)" font-size="14.0" text-anchor="middle">70</text>
<text transform="translate(605.7,840.0) scale(1.06,1)" font-size="14.0" text-anchor="middle">80</text>
<text transform="translate(675.4,840.0) scale(1.06,1)" font-size="14.0" text-anchor="middle">90</text>
<g font-size="29" font-weight="bold">
<text x="491.6" y="117.6">6SDX 65</text>
<text x="491.6" y="152.2">6SDXL 65</text>
</g>
<path d="M290.8,1054.3 L290.8,942.7 L294.3,941.8 L297.8,940.8 L301.3,940.0 L304.8,939.1 L308.2,938.3 L311.7,937.4 L315.2,936.6 L318.7,935.8 L322.2,935.0 L325.7,934.2 L329.2,933.4 L332.6,932.6 L336.1,931.9 L339.6,931.1 L343.1,930.4 L346.6,929.6 L350.1,928.9 L353.5,928.1 L357.0,927.4 L360.5,926.7 L364.0,926.0 L367.5,925.3 L371.0,924.5 L374.4,923.8 L377.9,923.1 L381.4,922.4 L384.9,921.7 L388.4,921.0 L391.9,920.4 L395.3,919.8 L398.8,919.2 L402.3,918.6 L405.8,918.0 L409.3,917.5 L412.8,916.9 L416.3,916.4 L419.7,915.9 L423.2,915.5 L426.7,915.1 L430.2,914.7 L433.7,914.4 L437.2,914.0 L440.6,913.7 L444.1,913.4 L447.6,913.2 L451.1,912.9 L454.6,912.7 L458.1,912.5 L461.5,912.3 L465.0,912.2 L468.5,912.1 L472.0,912.0 L475.5,911.9 L479.0,911.8 L482.4,911.8 L485.9,911.9 L489.4,912.1 L492.9,912.4 L496.4,912.8 L499.9,913.2 L503.4,913.7 L506.8,914.3 L510.3,915.0 L513.8,915.8 L517.3,916.6 L520.8,917.4 L524.3,918.4 L527.7,919.4 L531.2,920.5 L534.7,921.6 L538.2,922.9 L541.7,924.2 L545.2,925.7 L548.6,927.2 L552.1,928.8 L555.6,930.4 L559.1,932.1 L562.6,933.8 L566.1,935.6 L569.6,937.3 L573.0,939.1 L576.5,940.9 L580.0,942.6 L583.5,944.4 L587.0,946.2 L590.5,947.9 L593.9,949.6 L597.4,951.3 L600.9,953.0 L604.4,954.7 L604.4,1054.3 Z" fill="#b1e2f7"/>
<path d="M47.7,881.5H674.4M47.7,906.5H674.4M47.7,931.5H674.4M47.7,980.5H674.4M47.7,1005.5H674.4M47.7,1029.5H674.4M116.5,857.3V1054.3M151.5,857.3V1054.3M186.5,857.3V1054.3M221.5,857.3V1054.3M256.5,857.3V1054.3M325.5,857.3V1054.3M360.5,857.3V1054.3M395.5,857.3V1054.3M430.5,857.3V1054.3M465.5,857.3V1054.3M534.5,857.3V1054.3M569.5,857.3V1054.3M604.5,857.3V1054.3M639.5,857.3V1054.3" stroke="#2b2728" stroke-width="0.68" fill="none"/>
<path d="M47.7,956H674.4M82.0,857.3V1054.3M291.0,857.3V1054.3M500.0,857.3V1054.3" stroke="#2b2728" stroke-width="0.56" fill="none"/>
<rect x="335.4" y="899.4" width="45.8" height="15.4" fill="#fff"/>
<rect x="87.4" y="957.3" width="56.8" height="15.6" fill="#fff"/>
<rect x="92.4" y="1010.7" width="55.8" height="15.6" fill="#fff"/>
<rect x="381.2" y="929.4" width="42.2" height="16.8" fill="#b1e2f7"/>
<path d="M604.5,857.3V1054.3" stroke="#231f20" stroke-width="1.0" fill="none"/>
<path d="M165.4,1005.1 L168.9,1002.4 L172.4,999.8 L175.9,997.3 L179.3,994.8 L182.8,992.4 L186.3,990.0 L189.8,987.7 L193.3,985.6 L196.8,983.4 L200.2,981.3 L203.7,979.3 L207.2,977.3 L210.7,975.3 L214.2,973.3 L217.7,971.4 L221.1,969.6 L224.6,967.8 L228.1,966.1 L231.6,964.5 L235.1,962.9 L238.6,961.3 L242.1,959.8 L245.5,958.3 L249.0,956.9 L252.5,955.5 L256.0,954.2 L259.5,952.9 L263.0,951.6 L266.4,950.4 L269.9,949.2 L273.4,948.0 L276.9,946.9 L280.4,945.8 L283.9,944.7 L287.3,943.7 L290.8,942.7 L294.3,941.8 L297.8,940.8 L301.3,940.0 L304.8,939.1 L308.2,938.3 L311.7,937.4 L315.2,936.6 L318.7,935.8 L322.2,935.0 L325.7,934.2 L329.2,933.4 L332.6,932.6 L336.1,931.9 L339.6,931.1 L343.1,930.4 L346.6,929.6 L350.1,928.9 L353.5,928.1 L357.0,927.4 L360.5,926.7 L364.0,926.0 L367.5,925.3 L371.0,924.5 L374.4,923.8 L377.9,923.1 L381.4,922.4 L384.9,921.7 L388.4,921.0 L391.9,920.4 L395.3,919.8 L398.8,919.2 L402.3,918.6 L405.8,918.0 L409.3,917.5 L412.8,916.9 L416.3,916.4 L419.7,915.9 L423.2,915.5 L426.7,915.1 L430.2,914.7 L433.7,914.4 L437.2,914.0 L440.6,913.7 L444.1,913.4 L447.6,913.2 L451.1,912.9 L454.6,912.7 L458.1,912.5 L461.5,912.3 L465.0,912.2 L468.5,912.1 L472.0,912.0 L475.5,911.9 L479.0,911.8 L482.4,911.8 L485.9,911.9 L489.4,912.1 L492.9,912.4 L496.4,912.8 L499.9,913.2 L503.4,913.7 L506.8,914.3 L510.3,915.0 L513.8,915.8 L517.3,916.6 L520.8,917.4 L524.3,918.4 L527.7,919.4 L531.2,920.5 L534.7,921.6 L538.2,922.9 L541.7,924.2 L545.2,925.7 L548.6,927.2 L552.1,928.8 L555.6,930.4 L559.1,932.1 L562.6,933.8 L566.1,935.6 L569.6,937.3 L573.0,939.1 L576.5,940.9 L580.0,942.6 L583.5,944.4 L587.0,946.2 L590.5,947.9 L593.9,949.6 L597.4,951.3 L600.9,953.0 L604.4,954.7" stroke="#231f20" stroke-width="2.15" fill="none" stroke-linejoin="round"/>
<path d="M116.6,990.4 L120.1,988.1 L123.6,985.8 L127.1,983.6 L130.6,981.4 L134.1,979.2 L137.5,977.1 L141.0,975.0 L144.5,972.9 L148.0,970.9 L151.5,969.0 L155.0,967.2 L158.4,965.4 L161.9,963.7 L165.4,962.1 L168.9,960.6 L172.4,959.1 L175.9,957.7 L179.3,956.3 L182.8,955.0 L186.3,953.9 L189.8,952.9 L193.3,952.0 L196.8,951.1 L200.2,950.4 L203.7,949.8 L207.2,949.3 L210.7,948.9 L214.2,948.7 L217.7,948.7 L221.1,948.8 L224.6,949.0 L228.1,949.2 L231.6,949.6 L235.1,950.0 L238.6,950.4 L242.1,950.8 L245.5,951.2 L249.0,951.6 L252.5,952.0 L256.0,952.4 L259.5,952.8 L263.0,953.1 L266.4,953.5 L269.9,953.8 L273.4,954.1 L276.9,954.4 L280.4,954.6 L283.9,954.8" stroke="#231f20" stroke-width="2.15" fill="none" stroke-dasharray="8.8 7.4"/>
<path d="M290.8,955.3 L294.3,955.5 L297.8,955.8 L301.3,956.1 L304.8,956.4 L308.2,956.7 L311.7,956.9 L315.2,957.2 L318.7,957.3 L322.2,957.5 L325.7,957.5 L329.2,957.5 L332.6,957.4 L336.1,957.3 L339.6,957.2 L343.1,957.0 L346.6,956.8 L350.1,956.6 L353.5,956.4 L357.0,956.2 L360.5,956.0 L364.0,955.8 L367.5,955.5 L371.0,955.2 L374.4,954.8 L377.9,954.4 L381.4,954.0 L384.9,953.6 L388.4,953.2 L391.9,952.7 L395.3,952.3 L398.8,951.8 L402.3,951.4 L405.8,950.9 L409.3,950.3 L412.8,949.8 L416.3,949.2 L419.7,948.7 L423.2,948.1 L426.7,947.5 L430.2,946.9 L433.7,946.3 L437.2,945.7 L440.6,945.0 L444.1,944.3 L447.6,943.7 L451.1,943.0 L454.6,942.3 L458.1,941.6 L461.5,941.0 L465.0,940.3 L468.5,939.6 L472.0,939.0 L475.5,938.3 L479.0,937.6 L482.4,936.9 L485.9,936.2 L489.4,935.6 L492.9,935.0 L496.4,934.5 L499.9,934.0 L503.4,933.6 L506.8,933.1 L510.3,932.7 L513.8,932.2 L517.3,931.9 L520.8,931.5 L524.3,931.2 L527.7,930.9 L531.2,930.8 L534.7,930.7 L538.2,930.7 L541.7,930.6 L545.2,930.6 L548.6,930.6 L552.1,930.6 L555.6,930.7 L559.1,930.9 L562.6,931.1 L566.1,931.5 L569.6,931.8 L573.0,932.2 L576.5,932.8 L580.0,933.4 L583.5,934.2 L587.0,934.9 L590.5,935.7 L593.9,936.5 L597.4,937.4 L600.9,938.4 L604.4,939.4" stroke="#231f20" stroke-width="2.75" fill="none" stroke-linejoin="round"/>
<path d="M116.6,1006.9 L120.1,1005.0 L123.6,1003.2 L127.1,1001.3 L130.6,999.6 L134.1,997.8 L137.5,996.1 L141.0,994.4 L144.5,992.7 L148.0,991.1 L151.5,989.5 L155.0,987.9 L158.4,986.4 L161.9,984.9 L165.4,983.4 L168.9,982.0 L172.4,980.7 L175.9,979.4 L179.3,978.1 L182.8,977.0 L186.3,975.9 L189.8,974.9 L193.3,973.9 L196.8,973.0 L200.2,972.2 L203.7,971.5 L207.2,970.8 L210.7,970.3 L214.2,969.9 L217.7,969.7 L221.1,969.6 L224.6,969.7 L228.1,969.9 L231.6,970.3 L235.1,970.6 L238.6,971.0 L242.1,971.3 L245.5,971.7 L249.0,972.1 L252.5,972.5 L256.0,972.9 L259.5,973.3 L263.0,973.6 L266.4,974.0 L269.9,974.3 L273.4,974.6 L276.9,974.9 L280.4,975.1 L283.9,975.4" stroke="#231f20" stroke-width="2.15" fill="none" stroke-dasharray="8.8 7.4"/>
<path d="M290.8,975.8 L294.3,976.0 L297.8,976.2 L301.3,976.4 L304.8,976.6 L308.2,976.8 L311.7,977.0 L315.2,977.1 L318.7,977.2 L322.2,977.3 L325.7,977.3 L329.2,977.3 L332.6,977.2 L336.1,977.1 L339.6,977.0 L343.1,976.8 L346.6,976.6 L350.1,976.4 L353.5,976.2 L357.0,976.0 L360.5,975.8 L364.0,975.6 L367.5,975.3 L371.0,974.9 L374.4,974.5 L377.9,974.1 L381.4,973.7 L384.9,973.3 L388.4,972.8 L391.9,972.4 L395.3,971.9 L398.8,971.4 L402.3,970.9 L405.8,970.4 L409.3,969.9 L412.8,969.4 L416.3,968.8 L419.7,968.3 L423.2,967.7 L426.7,967.1 L430.2,966.5 L433.7,965.9 L437.2,965.3 L440.6,964.6 L444.1,963.9 L447.6,963.3 L451.1,962.6 L454.6,961.9 L458.1,961.2 L461.5,960.5 L465.0,959.9 L468.5,959.3 L472.0,958.6 L475.5,957.9 L479.0,957.2 L482.4,956.6 L485.9,955.9 L489.4,955.3 L492.9,954.7 L496.4,954.2 L499.9,953.8 L503.4,953.4 L506.8,953.0 L510.3,952.6 L513.8,952.2 L517.3,952.0 L520.8,951.8 L524.3,951.7 L527.7,951.7 L531.2,951.8 L534.7,951.9 L538.2,952.0 L541.7,952.3 L545.2,952.6 L548.6,952.9 L552.1,953.2 L555.6,953.5 L559.1,953.9 L562.6,954.3 L566.1,954.8 L569.6,955.3 L573.0,955.9 L576.5,956.6 L580.0,957.4 L583.5,958.2 L587.0,959.0 L590.5,959.8 L593.9,960.7 L597.4,961.6 L600.9,962.5 L604.4,963.5" stroke="#231f20" stroke-width="2.75" fill="none" stroke-linejoin="round"/>
<path d="M43.5,857.3H674.4V1054.3H43.5M47.5,857.3V1054.3" stroke="#231f20" stroke-width="1.35" fill="none"/>
<path d="M46.95,1054.3v2.6M116.63,1054.3v2.6M186.31,1054.3v2.6M255.99,1054.3v2.6M325.67,1054.3v2.6M395.35,1054.3v2.6M465.03,1054.3v2.6M534.71,1054.3v2.6M604.39,1054.3v2.6M674.07,1054.3v2.6M47.7,906.56h-4M47.7,955.82h-4M47.7,1005.08h-4M674.4,857.30h6.3M674.4,906.56h6.3M674.4,955.82h6.3M674.4,1005.08h6.3M674.4,1054.34h6.3" stroke="#231f20" stroke-width="1.08" fill="none"/>
<text transform="translate(33.9,863.0) scale(1.06,1)" font-size="14.0" text-anchor="end" letter-spacing="0.5">2,0</text>
<text transform="translate(33.9,911.9) scale(1.06,1)" font-size="14.0" text-anchor="end" letter-spacing="0.5">1,8</text>
<text transform="translate(33.9,960.8) scale(1.06,1)" font-size="14.0" text-anchor="end" letter-spacing="0.5">1,6</text>
<text transform="translate(33.9,1010.3) scale(1.06,1)" font-size="14.0" text-anchor="end" letter-spacing="0.5">1,4</text>
<text transform="translate(33.9,1059.1) scale(1.06,1)" font-size="14.0" text-anchor="end" letter-spacing="0.5">1,2</text>
<text transform="translate(0.2,935.6) scale(1.06,1)" font-size="14.0">kW/st</text>
<text transform="translate(686.7,862.6) scale(1.06,1)" font-size="14.0">100</text>
<text transform="translate(686.7,911.9) scale(1.06,1)" font-size="14.0">80</text>
<text transform="translate(686.7,959.3) scale(1.06,1)" font-size="14.0">60</text>
<text transform="translate(686.7,1010.5) scale(1.06,1)" font-size="14.0">40</text>
<text transform="translate(686.7,1059.2) scale(1.06,1)" font-size="14.0">20</text>
<text transform="translate(685.0,933.6) scale(1.06,1)" font-size="14.0"><tspan font-family="'Liberation Serif', 'DejaVu Serif', serif" font-size="15.5">η</tspan></text>
<text transform="translate(700.6,933.6) scale(1.08,1)" font-size="14.4">(%)</text>
<text transform="translate(339.6,912.5) scale(1.06,1)" font-size="14.0"><tspan font-family="'Liberation Serif', 'DejaVu Serif', serif" font-size="15.5">η</tspan></text>
<text transform="translate(355.0,912.5) scale(1.08,1)" font-size="14.4">(%)</text>
<text transform="translate(383.6,943.9) scale(1.06,1)" font-size="14.0">kW/st</text>
<text x="88.9" y="969.6" font-size="12.9">2900 rpm</text>
<text x="93.7" y="1023.2" font-size="12.9">2850 rpm</text>
<text transform="translate(632.2,1065.4) scale(1.15,1)" font-size="6.6">72.1166</text>
<text transform="translate(43.6,1075.2) scale(1.06,1)" font-size="14.0">0</text>
<text transform="translate(57.8,1075.2) scale(1.2,1)" font-size="14.5" font-weight="bold">Q</text>
<text transform="translate(75.6,1075.2) scale(1.15,1)" font-size="14.0">m<tspan font-size="9.2" dy="-2.3" dx="0.3">3</tspan><tspan dy="2.3" dx="0.3">/h</tspan></text>
<text transform="translate(109.9,1075.2) scale(1.06,1)" font-size="14.0">10</text>
<text transform="translate(187.5,1075.2) scale(1.06,1)" font-size="14.0" text-anchor="middle">20</text>
<text transform="translate(257.2,1075.2) scale(1.06,1)" font-size="14.0" text-anchor="middle">30</text>
<text transform="translate(326.9,1075.2) scale(1.06,1)" font-size="14.0" text-anchor="middle">40</text>
<text transform="translate(396.6,1075.2) scale(1.06,1)" font-size="14.0" text-anchor="middle">50</text>
<text transform="translate(466.3,1075.2) scale(1.06,1)" font-size="14.0" text-anchor="middle">60</text>
<text transform="translate(536.0,1075.2) scale(1.06,1)" font-size="14.0" text-anchor="middle">70</text>
<text transform="translate(605.7,1075.2) scale(1.06,1)" font-size="14.0" text-anchor="middle">80</text>
<text transform="translate(675.4,1075.2) scale(1.06,1)" font-size="14.0" text-anchor="middle">90</text>
</svg>
</body></html>
